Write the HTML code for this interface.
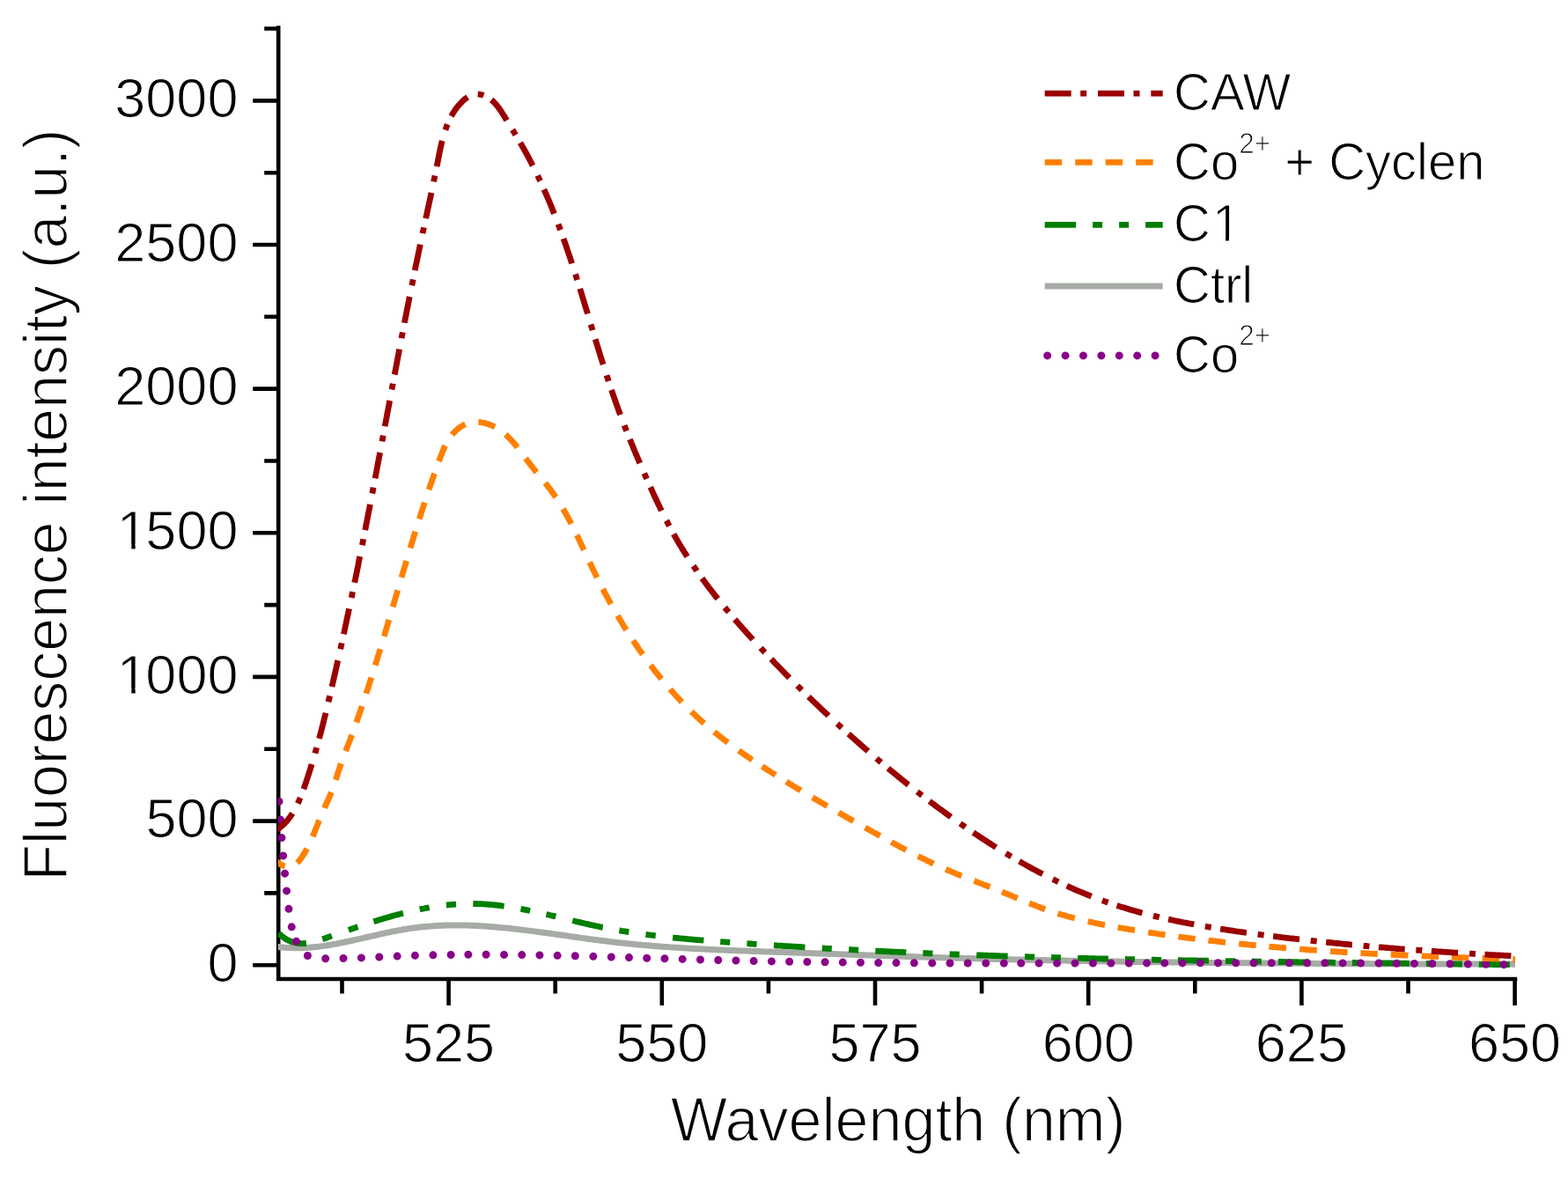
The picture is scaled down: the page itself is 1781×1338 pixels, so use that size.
<!DOCTYPE html>
<html><head><meta charset="utf-8"><title>Fluorescence spectra</title>
<style>html,body{margin:0;padding:0;background:#fff;} body{width:1781px;height:1338px;overflow:hidden;} svg{display:block;}</style>
</head><body><div id="wrap">
<svg width="1781" height="1338" viewBox="0 0 1781 1338"><rect width="1781" height="1338" fill="#fff"/><g><rect width="1781" height="1338" fill="#fff"/><path d="M316.2,31.5 V1112.0 H1721.0" fill="none" stroke="#000" stroke-width="4.6" stroke-linejoin="miter" stroke-linecap="square"/>
<path d="M287.2,1096.2H316.2 M300.2,1014.4H316.2 M287.2,932.6H316.2 M300.2,850.7H316.2 M287.2,768.9H316.2 M300.2,687.1H316.2 M287.2,605.3H316.2 M300.2,523.5H316.2 M287.2,441.6H316.2 M300.2,359.8H316.2 M287.2,278.0H316.2 M300.2,196.2H316.2 M287.2,114.4H316.2 M300.2,32.5H316.2 M388.5,1112.0V1128.5 M509.6,1112.0V1142.0 M630.7,1112.0V1128.5 M751.8,1112.0V1142.0 M872.9,1112.0V1128.5 M994.0,1112.0V1142.0 M1115.1,1112.0V1128.5 M1236.2,1112.0V1142.0 M1357.3,1112.0V1128.5 M1478.4,1112.0V1142.0 M1599.5,1112.0V1128.5 M1720.6,1112.0V1142.0" fill="none" stroke="#000" stroke-width="4.6"/>
<g font-family="Liberation Sans, Arial, sans-serif" font-size="63" fill="#000" stroke="#fff" stroke-width="1.1"><text x="235.5" y="1114.9">0</text><text x="165.4" y="951.3">500</text><text x="130.3" y="787.6"><tspan dx="2.5">1</tspan><tspan dx="-2.5">000</tspan></text><text x="130.3" y="624.0"><tspan dx="2.5">1</tspan><tspan dx="-2.5">500</tspan></text><text x="130.3" y="460.3">2000</text><text x="130.3" y="296.7">2500</text><text x="130.3" y="133.1">3000</text><text x="509.6" y="1206" text-anchor="middle">525</text><text x="751.8" y="1206" text-anchor="middle">550</text><text x="994.0" y="1206" text-anchor="middle">575</text><text x="1236.2" y="1206" text-anchor="middle">600</text><text x="1478.4" y="1206" text-anchor="middle">625</text><text x="1720.6" y="1206" text-anchor="middle">650</text></g>
<text transform="translate(1020,1295.7) scale(1,1.045)" x="0" y="0" text-anchor="middle" font-family="Liberation Sans, Arial, sans-serif" font-size="68.2" fill="#000" stroke="#fff" stroke-width="1.5">Wavelength (nm)</text>
<text transform="translate(75.5,573.5) rotate(-90) scale(1,1.045)" x="0" y="0" text-anchor="middle" font-family="Liberation Sans, Arial, sans-serif" font-size="68" fill="#000" stroke="#fff" stroke-width="1.5">Fluorescence intensity (a.u.)</text>
<defs><clipPath id="plot"><rect x="315.8" y="0" width="1406" height="1111"/></clipPath></defs>
<g fill="none" clip-path="url(#plot)"><path d="M313.9,1075.1 L315.8,1075.4 L317.8,1075.7 L319.8,1075.9 L321.8,1076.1 L323.8,1076.3 L325.8,1076.4 L327.8,1076.5 L329.8,1076.6 L331.8,1076.7 L333.8,1076.8 L335.8,1076.8 L337.8,1076.8 L339.8,1076.8 L341.8,1076.7 L343.8,1076.6 L345.8,1076.5 L347.8,1076.4 L349.8,1076.3 L351.8,1076.2 L353.8,1076.0 L355.8,1075.8 L357.8,1075.6 L359.8,1075.4 L361.8,1075.2 L363.7,1074.9 L365.7,1074.6 L367.7,1074.4 L369.7,1074.1 L371.7,1073.8 L373.6,1073.5 L375.6,1073.1 L377.6,1072.8 L379.6,1072.4 L381.5,1072.1 L383.5,1071.7 L385.5,1071.3 L387.4,1070.9 L389.4,1070.5 L391.3,1070.1 L393.3,1069.7 L395.3,1069.3 L397.2,1068.9 L399.2,1068.5 L401.1,1068.0 L403.1,1067.6 L405.0,1067.2 L407.0,1066.7 L408.9,1066.3 L410.9,1065.8 L412.8,1065.4 L414.8,1064.9 L416.7,1064.5 L418.7,1064.0 L420.7,1063.6 L422.6,1063.1 L424.6,1062.7 L426.5,1062.3 L428.5,1061.8 L430.4,1061.4 L432.4,1060.9 L434.3,1060.5 L436.3,1060.1 L438.2,1059.7 L440.2,1059.2 L442.1,1058.8 L444.1,1058.4 L446.1,1058.0 L448.0,1057.6 L450.0,1057.2 L452.0,1056.9 L453.9,1056.5 L455.9,1056.2 L457.9,1055.8 L459.8,1055.5 L461.8,1055.2 L463.8,1054.8 L465.8,1054.5 L467.8,1054.3 L469.7,1054.0 L471.7,1053.7 L473.7,1053.5 L475.7,1053.2 L477.7,1053.0 L479.7,1052.8 L481.7,1052.6 L483.7,1052.4 L485.7,1052.2 L487.7,1052.1 L489.7,1051.9 L491.7,1051.8 L493.6,1051.7 L495.6,1051.5 L497.6,1051.4 L499.6,1051.3 L501.6,1051.3 L503.6,1051.2 L505.6,1051.1 L507.6,1051.1 L509.6,1051.0 L511.7,1051.0 L513.7,1050.9 L515.7,1050.9 L517.7,1050.9 L519.7,1050.9 L521.7,1050.9 L523.7,1051.0 L525.7,1051.0 L527.7,1051.0 L529.7,1051.1 L531.7,1051.1 L533.7,1051.2 L535.7,1051.3 L537.7,1051.3 L539.7,1051.4 L541.7,1051.5 L543.7,1051.6 L545.7,1051.7 L547.7,1051.8 L549.7,1052.0 L551.7,1052.1 L553.7,1052.2 L555.7,1052.4 L557.6,1052.5 L559.6,1052.7 L561.6,1052.8 L563.6,1053.0 L565.6,1053.2 L567.6,1053.4 L569.6,1053.6 L571.6,1053.7 L573.6,1053.9 L575.6,1054.1 L577.6,1054.3 L579.6,1054.5 L581.6,1054.8 L583.6,1055.0 L585.5,1055.2 L587.5,1055.4 L589.5,1055.7 L591.5,1055.9 L593.5,1056.1 L595.5,1056.4 L597.5,1056.6 L599.5,1056.9 L601.4,1057.1 L603.4,1057.4 L605.4,1057.6 L607.4,1057.9 L609.4,1058.2 L611.4,1058.4 L613.4,1058.7 L615.3,1059.0 L617.3,1059.2 L619.3,1059.5 L621.3,1059.8 L623.3,1060.0 L625.3,1060.3 L627.2,1060.6 L629.2,1060.9 L631.2,1061.2 L633.2,1061.4 L635.2,1061.7 L637.1,1062.0 L639.1,1062.3 L641.1,1062.6 L643.1,1062.8 L645.1,1063.1 L647.1,1063.4 L649.0,1063.7 L651.0,1064.0 L653.0,1064.3 L655.0,1064.5 L657.0,1064.8 L658.9,1065.1 L660.9,1065.4 L662.9,1065.6 L664.9,1065.9 L666.9,1066.2 L668.9,1066.5 L670.8,1066.7 L672.8,1067.0 L674.8,1067.3 L676.8,1067.5 L678.8,1067.8 L680.8,1068.0 L682.8,1068.3 L684.7,1068.6 L686.7,1068.8 L688.7,1069.0 L690.7,1069.3 L692.7,1069.5 L694.7,1069.8 L696.7,1070.0 L698.7,1070.2 L700.6,1070.5 L702.6,1070.7 L704.6,1070.9 L706.6,1071.1 L708.6,1071.3 L710.6,1071.5 L712.6,1071.7 L714.6,1071.9 L716.6,1072.1 L718.6,1072.3 L720.6,1072.5 L722.5,1072.7 L724.5,1072.9 L726.5,1073.1 L728.5,1073.3 L730.5,1073.4 L732.5,1073.6 L734.5,1073.8 L736.5,1074.0 L738.5,1074.1 L740.5,1074.3 L742.5,1074.4 L744.5,1074.6 L746.5,1074.8 L748.5,1074.9 L750.5,1075.1 L752.5,1075.2 L754.5,1075.4 L756.5,1075.5 L758.5,1075.6 L760.5,1075.8 L762.4,1075.9 L764.4,1076.1 L766.4,1076.2 L768.4,1076.3 L770.4,1076.4 L772.4,1076.6 L774.4,1076.7 L776.4,1076.8 L778.4,1076.9 L780.4,1077.1 L782.4,1077.2 L784.4,1077.3 L786.4,1077.4 L788.4,1077.5 L790.4,1077.6 L792.4,1077.7 L794.4,1077.8 L796.4,1077.9 L798.4,1078.0 L800.4,1078.1 L802.4,1078.2 L804.4,1078.3 L806.4,1078.4 L808.4,1078.5 L810.4,1078.6 L812.4,1078.7 L814.4,1078.8 L816.4,1078.9 L818.4,1079.0 L820.4,1079.0 L822.4,1079.1 L824.4,1079.2 L826.4,1079.3 L828.4,1079.4 L830.4,1079.5 L832.4,1079.5 L834.4,1079.6 L836.4,1079.7 L838.4,1079.8 L840.4,1079.9 L842.4,1079.9 L844.4,1080.0 L846.4,1080.1 L848.4,1080.1 L850.4,1080.2 L852.4,1080.3 L854.4,1080.4 L856.4,1080.4 L858.4,1080.5 L860.4,1080.6 L862.4,1080.6 L864.4,1080.7 L866.4,1080.8 L868.4,1080.9 L870.4,1080.9 L872.4,1081.0 L874.4,1081.1 L876.4,1081.1 L878.4,1081.2 L880.4,1081.3 L882.4,1081.3 L884.4,1081.4 L886.4,1081.5 L888.4,1081.5 L890.4,1081.6 L892.4,1081.7 L894.4,1081.7 L896.4,1081.8 L898.4,1081.9 L900.4,1081.9 L902.4,1082.0 L904.4,1082.1 L906.4,1082.2 L908.4,1082.2 L910.4,1082.3 L912.4,1082.4 L914.4,1082.4 L916.4,1082.5 L918.4,1082.6 L920.4,1082.6 L922.4,1082.7 L924.4,1082.8 L926.4,1082.9 L928.4,1082.9 L930.4,1083.0 L932.4,1083.1 L934.4,1083.1 L936.4,1083.2 L938.4,1083.3 L940.4,1083.3 L942.4,1083.4 L944.4,1083.5 L946.4,1083.6 L948.4,1083.6 L950.4,1083.7 L952.5,1083.8 L954.5,1083.8 L956.5,1083.9 L958.5,1084.0 L960.5,1084.1 L962.5,1084.1 L964.5,1084.2 L966.5,1084.3 L968.5,1084.3 L970.5,1084.4 L972.5,1084.5 L974.5,1084.5 L976.5,1084.6 L978.5,1084.7 L980.5,1084.8 L982.5,1084.8 L984.5,1084.9 L986.5,1085.0 L988.5,1085.0 L990.5,1085.1 L992.5,1085.2 L994.5,1085.2 L996.5,1085.3 L998.5,1085.4 L1000.5,1085.4 L1002.5,1085.5 L1004.5,1085.6 L1006.5,1085.7 L1008.5,1085.7 L1010.5,1085.8 L1012.5,1085.9 L1014.5,1085.9 L1016.5,1086.0 L1018.5,1086.1 L1020.5,1086.1 L1022.5,1086.2 L1024.5,1086.3 L1026.5,1086.3 L1028.5,1086.4 L1030.5,1086.5 L1032.5,1086.5 L1034.5,1086.6 L1036.5,1086.6 L1038.5,1086.7 L1040.5,1086.8 L1042.5,1086.8 L1044.5,1086.9 L1046.5,1087.0 L1048.5,1087.0 L1050.5,1087.1 L1052.5,1087.2 L1054.5,1087.2 L1056.5,1087.3 L1058.5,1087.3 L1060.5,1087.4 L1062.5,1087.5 L1064.5,1087.5 L1066.5,1087.6 L1068.5,1087.7 L1070.5,1087.7 L1072.5,1087.8 L1074.5,1087.8 L1076.5,1087.9 L1078.5,1087.9 L1080.5,1088.0 L1082.5,1088.1 L1084.5,1088.1 L1086.5,1088.2 L1088.5,1088.2 L1090.5,1088.3 L1092.5,1088.3 L1094.5,1088.4 L1096.5,1088.5 L1098.5,1088.5 L1100.5,1088.6 L1102.5,1088.6 L1104.5,1088.7 L1106.5,1088.7 L1108.5,1088.8 L1110.5,1088.8 L1112.5,1088.9 L1114.5,1088.9 L1116.5,1089.0 L1118.5,1089.0 L1120.5,1089.1 L1122.5,1089.2 L1124.5,1089.2 L1126.5,1089.3 L1128.5,1089.3 L1130.5,1089.4 L1132.5,1089.4 L1134.5,1089.5 L1136.5,1089.5 L1138.5,1089.6 L1140.5,1089.6 L1142.5,1089.6 L1144.5,1089.7 L1146.5,1089.7 L1148.5,1089.8 L1150.5,1089.8 L1152.5,1089.9 L1154.5,1089.9 L1156.5,1090.0 L1158.5,1090.0 L1160.5,1090.1 L1162.5,1090.1 L1164.5,1090.2 L1166.5,1090.2 L1168.5,1090.2 L1170.5,1090.3 L1172.5,1090.3 L1174.5,1090.4 L1176.6,1090.4 L1178.6,1090.5 L1180.6,1090.5 L1182.6,1090.6 L1184.6,1090.6 L1186.6,1090.6 L1188.6,1090.7 L1190.6,1090.7 L1192.6,1090.8 L1194.6,1090.8 L1196.6,1090.8 L1198.6,1090.9 L1200.6,1090.9 L1202.6,1091.0 L1204.6,1091.0 L1206.6,1091.0 L1208.6,1091.1 L1210.6,1091.1 L1212.6,1091.2 L1214.6,1091.2 L1216.6,1091.2 L1218.6,1091.3 L1220.6,1091.3 L1222.6,1091.3 L1224.6,1091.4 L1226.6,1091.4 L1228.6,1091.4 L1230.6,1091.5 L1232.6,1091.5 L1234.6,1091.6 L1236.6,1091.6 L1238.6,1091.6 L1240.6,1091.7 L1242.6,1091.7 L1244.6,1091.7 L1246.6,1091.8 L1248.6,1091.8 L1250.6,1091.8 L1252.6,1091.9 L1254.6,1091.9 L1256.6,1091.9 L1258.6,1092.0 L1260.6,1092.0 L1262.6,1092.0 L1264.6,1092.1 L1266.6,1092.1 L1268.6,1092.1 L1270.6,1092.1 L1272.6,1092.2 L1274.6,1092.2 L1276.6,1092.2 L1278.6,1092.3 L1280.6,1092.3 L1282.6,1092.3 L1284.6,1092.4 L1286.6,1092.4 L1288.6,1092.4 L1290.6,1092.4 L1292.6,1092.5 L1294.6,1092.5 L1296.6,1092.5 L1298.6,1092.6 L1300.6,1092.6 L1302.6,1092.6 L1304.6,1092.6 L1306.6,1092.7 L1308.7,1092.7 L1310.7,1092.7 L1312.7,1092.7 L1314.7,1092.8 L1316.7,1092.8 L1318.7,1092.8 L1320.7,1092.8 L1322.7,1092.9 L1324.7,1092.9 L1326.7,1092.9 L1328.7,1092.9 L1330.7,1093.0 L1332.7,1093.0 L1334.7,1093.0 L1336.7,1093.0 L1338.7,1093.1 L1340.7,1093.1 L1342.7,1093.1 L1344.7,1093.1 L1346.7,1093.2 L1348.7,1093.2 L1350.7,1093.2 L1352.7,1093.2 L1354.7,1093.2 L1356.7,1093.3 L1358.7,1093.3 L1360.7,1093.3 L1362.7,1093.3 L1364.7,1093.3 L1366.7,1093.4 L1368.7,1093.4 L1370.7,1093.4 L1372.7,1093.4 L1374.7,1093.4 L1376.7,1093.5 L1378.7,1093.5 L1380.7,1093.5 L1382.7,1093.5 L1384.7,1093.5 L1386.7,1093.6 L1388.7,1093.6 L1390.7,1093.6 L1392.7,1093.6 L1394.7,1093.6 L1396.7,1093.7 L1398.7,1093.7 L1400.7,1093.7 L1402.7,1093.7 L1404.7,1093.7 L1406.7,1093.7 L1408.7,1093.8 L1410.7,1093.8 L1412.7,1093.8 L1414.7,1093.8 L1416.7,1093.8 L1418.7,1093.8 L1420.7,1093.9 L1422.7,1093.9 L1424.7,1093.9 L1426.8,1093.9 L1428.8,1093.9 L1430.8,1093.9 L1432.8,1094.0 L1434.8,1094.0 L1436.8,1094.0 L1438.8,1094.0 L1440.8,1094.0 L1442.8,1094.0 L1444.8,1094.0 L1446.8,1094.1 L1448.8,1094.1 L1450.8,1094.1 L1452.8,1094.1 L1454.8,1094.1 L1456.8,1094.1 L1458.8,1094.1 L1460.8,1094.2 L1462.8,1094.2 L1464.8,1094.2 L1466.8,1094.2 L1468.8,1094.2 L1470.8,1094.2 L1472.8,1094.2 L1474.8,1094.2 L1476.8,1094.3 L1478.8,1094.3 L1480.8,1094.3 L1482.8,1094.3 L1484.8,1094.3 L1486.8,1094.3 L1488.8,1094.3 L1490.8,1094.3 L1492.8,1094.4 L1494.8,1094.4 L1496.8,1094.4 L1498.8,1094.4 L1500.8,1094.4 L1502.8,1094.4 L1504.8,1094.4 L1506.8,1094.4 L1508.8,1094.4 L1510.8,1094.4 L1512.8,1094.5 L1514.8,1094.5 L1516.8,1094.5 L1518.8,1094.5 L1520.8,1094.5 L1522.8,1094.5 L1524.8,1094.5 L1526.8,1094.5 L1528.8,1094.5 L1530.8,1094.5 L1532.8,1094.6 L1534.8,1094.6 L1536.8,1094.6 L1538.8,1094.6 L1540.9,1094.6 L1542.9,1094.6 L1544.9,1094.6 L1546.9,1094.6 L1548.9,1094.6 L1550.9,1094.6 L1552.9,1094.6 L1554.9,1094.6 L1556.9,1094.7 L1558.9,1094.7 L1560.9,1094.7 L1562.9,1094.7 L1564.9,1094.7 L1566.9,1094.7 L1568.9,1094.7 L1570.9,1094.7 L1572.9,1094.7 L1574.9,1094.7 L1576.9,1094.7 L1578.9,1094.7 L1580.9,1094.7 L1582.9,1094.8 L1584.9,1094.8 L1586.9,1094.8 L1588.9,1094.8 L1590.9,1094.8 L1592.9,1094.8 L1594.9,1094.8 L1596.9,1094.8 L1598.9,1094.8 L1600.9,1094.8 L1602.9,1094.8 L1604.9,1094.8 L1606.9,1094.8 L1608.9,1094.8 L1610.9,1094.9 L1612.9,1094.9 L1614.9,1094.9 L1616.9,1094.9 L1618.9,1094.9 L1620.9,1094.9 L1622.9,1094.9 L1624.9,1094.9 L1626.9,1094.9 L1628.9,1094.9 L1630.9,1094.9 L1632.9,1094.9 L1634.9,1094.9 L1636.9,1094.9 L1638.9,1094.9 L1640.9,1094.9 L1642.9,1094.9 L1644.9,1095.0 L1646.9,1095.0 L1648.9,1095.0 L1650.9,1095.0 L1653.0,1095.0 L1655.0,1095.0 L1657.0,1095.0 L1659.0,1095.0 L1661.0,1095.0 L1663.0,1095.0 L1665.0,1095.0 L1667.0,1095.0 L1669.0,1095.0 L1671.0,1095.0 L1673.0,1095.0 L1675.0,1095.0 L1677.0,1095.0 L1679.0,1095.0 L1681.0,1095.1 L1683.0,1095.1 L1685.0,1095.1 L1687.0,1095.1 L1689.0,1095.1 L1691.0,1095.1 L1693.0,1095.1 L1695.0,1095.1 L1697.0,1095.1 L1699.0,1095.1 L1701.0,1095.1 L1703.0,1095.1 L1705.0,1095.1 L1707.0,1095.1 L1709.0,1095.1 L1711.0,1095.1 L1713.0,1095.1 L1715.0,1095.1 L1717.0,1095.1 L1719.0,1095.2 L1721.0,1095.2" stroke="#A6ABA6" stroke-width="7.0"/>
<path d="M313.6,1056.9 L315.0,1058.4 L316.4,1059.8 L317.8,1061.2 L319.3,1062.6 L320.8,1063.8 L322.4,1065.0 L324.1,1066.1 L325.8,1067.2 L327.6,1068.1 L329.4,1069.0 L331.2,1069.7 L333.1,1070.3 L335.1,1070.8 L337.0,1071.2 L339.0,1071.5 L341.0,1071.7 L343.0,1071.7 L345.0,1071.7 L347.0,1071.5 L349.0,1071.3 L351.0,1071.0 L352.9,1070.6 L354.9,1070.2 L356.8,1069.7 L358.8,1069.2 L360.7,1068.6 L362.6,1068.0 L364.5,1067.4 L366.4,1066.7 L368.3,1066.1 L370.2,1065.4 L372.1,1064.7 L373.9,1064.1 L375.8,1063.4 L377.7,1062.7 L379.6,1062.1 L381.5,1061.4 L383.4,1060.7 L385.3,1060.1 L387.1,1059.4 L389.0,1058.7 L390.9,1058.1 L392.8,1057.4 L394.7,1056.7 L396.6,1056.1 L398.5,1055.4 L400.4,1054.8 L402.3,1054.1 L404.2,1053.5 L406.0,1052.8 L407.9,1052.2 L409.8,1051.6 L411.7,1050.9 L413.6,1050.3 L415.5,1049.7 L417.4,1049.1 L419.3,1048.4 L421.2,1047.8 L423.2,1047.2 L425.1,1046.6 L427.0,1046.0 L428.9,1045.4 L430.8,1044.8 L432.7,1044.2 L434.6,1043.7 L436.5,1043.1 L438.5,1042.5 L440.4,1042.0 L442.3,1041.4 L444.2,1040.9 L446.1,1040.3 L448.1,1039.8 L450.0,1039.3 L451.9,1038.7 L453.9,1038.2 L455.8,1037.7 L457.7,1037.2 L459.7,1036.7 L461.6,1036.3 L463.6,1035.8 L465.5,1035.3 L467.5,1034.9 L469.4,1034.4 L471.4,1034.0 L473.3,1033.6 L475.3,1033.1 L477.2,1032.7 L479.2,1032.3 L481.2,1032.0 L483.1,1031.6 L485.1,1031.2 L487.1,1030.9 L489.0,1030.5 L491.0,1030.2 L493.0,1029.9 L495.0,1029.6 L496.9,1029.3 L498.9,1029.0 L500.9,1028.7 L502.9,1028.5 L504.9,1028.2 L506.9,1028.0 L508.9,1027.8 L510.8,1027.6 L512.8,1027.4 L514.8,1027.3 L516.8,1027.1 L518.8,1027.0 L520.8,1026.8 L522.8,1026.7 L524.8,1026.6 L526.8,1026.6 L528.8,1026.5 L530.8,1026.5 L532.8,1026.4 L534.8,1026.4 L536.8,1026.4 L538.8,1026.5 L540.8,1026.5 L542.8,1026.6 L544.8,1026.6 L546.8,1026.7 L548.8,1026.8 L550.8,1027.0 L552.8,1027.1 L554.8,1027.3 L556.8,1027.4 L558.8,1027.6 L560.8,1027.8 L562.8,1028.0 L564.8,1028.2 L566.7,1028.5 L568.7,1028.7 L570.7,1029.0 L572.7,1029.3 L574.7,1029.5 L576.6,1029.8 L578.6,1030.1 L580.6,1030.5 L582.6,1030.8 L584.5,1031.1 L586.5,1031.5 L588.5,1031.8 L590.5,1032.2 L592.4,1032.5 L594.4,1032.9 L596.4,1033.3 L598.3,1033.7 L600.3,1034.1 L602.2,1034.5 L604.2,1034.9 L606.1,1035.3 L608.1,1035.7 L610.1,1036.2 L612.0,1036.6 L614.0,1037.0 L615.9,1037.5 L617.9,1037.9 L619.8,1038.4 L621.8,1038.8 L623.7,1039.3 L625.7,1039.7 L627.6,1040.2 L629.6,1040.6 L631.5,1041.1 L633.4,1041.6 L635.4,1042.0 L637.3,1042.5 L639.3,1043.0 L641.2,1043.4 L643.2,1043.9 L645.1,1044.4 L647.1,1044.8 L649.0,1045.3 L651.0,1045.8 L652.9,1046.2 L654.8,1046.7 L656.8,1047.2 L658.7,1047.6 L660.7,1048.1 L662.6,1048.5 L664.6,1049.0 L666.5,1049.4 L668.5,1049.9 L670.4,1050.3 L672.4,1050.7 L674.3,1051.2 L676.3,1051.6 L678.3,1052.0 L680.2,1052.4 L682.2,1052.8 L684.1,1053.3 L686.1,1053.6 L688.1,1054.0 L690.0,1054.4 L692.0,1054.8 L694.0,1055.2 L695.9,1055.5 L697.9,1055.9 L699.9,1056.2 L701.8,1056.6 L703.8,1056.9 L705.8,1057.3 L707.7,1057.6 L709.7,1057.9 L711.7,1058.2 L713.7,1058.6 L715.6,1058.9 L717.6,1059.2 L719.6,1059.5 L721.6,1059.8 L723.6,1060.1 L725.5,1060.3 L727.5,1060.6 L729.5,1060.9 L731.5,1061.2 L733.5,1061.4 L735.5,1061.7 L737.4,1061.9 L739.4,1062.2 L741.4,1062.4 L743.4,1062.7 L745.4,1062.9 L747.4,1063.1 L749.4,1063.4 L751.3,1063.6 L753.3,1063.8 L755.3,1064.0 L757.3,1064.3 L759.3,1064.5 L761.3,1064.7 L763.3,1064.9 L765.3,1065.1 L767.3,1065.3 L769.2,1065.5 L771.2,1065.7 L773.2,1065.9 L775.2,1066.1 L777.2,1066.2 L779.2,1066.4 L781.2,1066.6 L783.2,1066.8 L785.2,1066.9 L787.2,1067.1 L789.2,1067.3 L791.2,1067.5 L793.2,1067.6 L795.2,1067.8 L797.2,1067.9 L799.1,1068.1 L801.1,1068.3 L803.1,1068.4 L805.1,1068.6 L807.1,1068.7 L809.1,1068.9 L811.1,1069.0 L813.1,1069.2 L815.1,1069.3 L817.1,1069.5 L819.1,1069.6 L821.1,1069.8 L823.1,1069.9 L825.1,1070.1 L827.1,1070.2 L829.1,1070.3 L831.1,1070.5 L833.1,1070.6 L835.1,1070.8 L837.1,1070.9 L839.0,1071.0 L841.0,1071.2 L843.0,1071.3 L845.0,1071.5 L847.0,1071.6 L849.0,1071.7 L851.0,1071.9 L853.0,1072.0 L855.0,1072.1 L857.0,1072.3 L859.0,1072.4 L861.0,1072.5 L863.0,1072.7 L865.0,1072.8 L867.0,1072.9 L869.0,1073.1 L871.0,1073.2 L873.0,1073.3 L875.0,1073.4 L877.0,1073.6 L879.0,1073.7 L881.0,1073.8 L883.0,1074.0 L885.0,1074.1 L887.0,1074.2 L889.0,1074.3 L891.0,1074.5 L893.0,1074.6 L894.9,1074.7 L896.9,1074.8 L898.9,1074.9 L900.9,1075.1 L902.9,1075.2 L904.9,1075.3 L906.9,1075.4 L908.9,1075.5 L910.9,1075.7 L912.9,1075.8 L914.9,1075.9 L916.9,1076.0 L918.9,1076.1 L920.9,1076.2 L922.9,1076.4 L924.9,1076.5 L926.9,1076.6 L928.9,1076.7 L930.9,1076.8 L932.9,1076.9 L934.9,1077.0 L936.9,1077.1 L938.9,1077.3 L940.9,1077.4 L942.9,1077.5 L944.9,1077.6 L946.9,1077.7 L948.9,1077.8 L950.9,1077.9 L952.9,1078.0 L954.9,1078.1 L956.9,1078.2 L958.9,1078.3 L960.9,1078.4 L962.9,1078.5 L964.9,1078.6 L966.9,1078.7 L968.9,1078.8 L970.9,1078.9 L972.9,1079.0 L974.9,1079.1 L976.8,1079.2 L978.8,1079.3 L980.8,1079.4 L982.8,1079.5 L984.8,1079.6 L986.8,1079.7 L988.8,1079.8 L990.8,1079.9 L992.8,1080.0 L994.8,1080.1 L996.8,1080.2 L998.8,1080.3 L1000.8,1080.4 L1002.8,1080.5 L1004.8,1080.6 L1006.8,1080.7 L1008.8,1080.8 L1010.8,1080.9 L1012.8,1081.0 L1014.8,1081.1 L1016.8,1081.1 L1018.8,1081.2 L1020.8,1081.3 L1022.8,1081.4 L1024.8,1081.5 L1026.8,1081.6 L1028.8,1081.7 L1030.8,1081.8 L1032.8,1081.9 L1034.8,1081.9 L1036.8,1082.0 L1038.8,1082.1 L1040.8,1082.2 L1042.8,1082.3 L1044.8,1082.4 L1046.8,1082.5 L1048.8,1082.5 L1050.8,1082.6 L1052.8,1082.7 L1054.8,1082.8 L1056.8,1082.9 L1058.8,1082.9 L1060.8,1083.0 L1062.8,1083.1 L1064.8,1083.2 L1066.8,1083.3 L1068.8,1083.3 L1070.8,1083.4 L1072.8,1083.5 L1074.8,1083.6 L1076.8,1083.6 L1078.8,1083.7 L1080.8,1083.8 L1082.8,1083.9 L1084.8,1084.0 L1086.8,1084.0 L1088.8,1084.1 L1090.8,1084.2 L1092.8,1084.2 L1094.8,1084.3 L1096.8,1084.4 L1098.8,1084.5 L1100.8,1084.5 L1102.8,1084.6 L1104.8,1084.7 L1106.8,1084.8 L1108.8,1084.8 L1110.8,1084.9 L1112.8,1085.0 L1114.8,1085.0 L1116.8,1085.1 L1118.8,1085.2 L1120.8,1085.2 L1122.8,1085.3 L1124.8,1085.4 L1126.8,1085.4 L1128.8,1085.5 L1130.8,1085.6 L1132.8,1085.6 L1134.8,1085.7 L1136.8,1085.8 L1138.8,1085.8 L1140.8,1085.9 L1142.8,1086.0 L1144.8,1086.0 L1146.8,1086.1 L1148.8,1086.1 L1150.8,1086.2 L1152.8,1086.3 L1154.8,1086.3 L1156.8,1086.4 L1158.8,1086.5 L1160.8,1086.5 L1162.8,1086.6 L1164.8,1086.6 L1166.8,1086.7 L1168.8,1086.8 L1170.8,1086.8 L1172.8,1086.9 L1174.8,1086.9 L1176.8,1087.0 L1178.8,1087.0 L1180.8,1087.1 L1182.8,1087.2 L1184.8,1087.2 L1186.8,1087.3 L1188.8,1087.3 L1190.8,1087.4 L1192.8,1087.4 L1194.8,1087.5 L1196.8,1087.6 L1198.8,1087.6 L1200.8,1087.7 L1202.8,1087.7 L1204.8,1087.8 L1206.8,1087.8 L1208.8,1087.9 L1210.8,1087.9 L1212.8,1088.0 L1214.8,1088.0 L1216.8,1088.1 L1218.8,1088.1 L1220.8,1088.2 L1222.8,1088.2 L1224.8,1088.3 L1226.8,1088.3 L1228.8,1088.4 L1230.8,1088.4 L1232.8,1088.5 L1234.8,1088.5 L1236.8,1088.6 L1238.8,1088.6 L1240.8,1088.7 L1242.8,1088.7 L1244.8,1088.8 L1246.8,1088.8 L1248.8,1088.9 L1250.8,1088.9 L1252.8,1089.0 L1254.8,1089.0 L1256.8,1089.0 L1258.8,1089.1 L1260.8,1089.1 L1262.8,1089.2 L1264.8,1089.2 L1266.8,1089.3 L1268.8,1089.3 L1270.8,1089.4 L1272.8,1089.4 L1274.8,1089.4 L1276.8,1089.5 L1278.8,1089.5 L1280.8,1089.6 L1282.8,1089.6 L1284.8,1089.7 L1286.8,1089.7 L1288.8,1089.7 L1290.8,1089.8 L1292.8,1089.8 L1294.8,1089.9 L1296.8,1089.9 L1298.8,1089.9 L1300.8,1090.0 L1302.8,1090.0 L1304.8,1090.1 L1306.8,1090.1 L1308.8,1090.1 L1310.8,1090.2 L1312.8,1090.2 L1314.8,1090.3 L1316.8,1090.3 L1318.8,1090.3 L1320.8,1090.4 L1322.8,1090.4 L1324.8,1090.4 L1326.8,1090.5 L1328.8,1090.5 L1330.8,1090.6 L1332.8,1090.6 L1334.8,1090.6 L1336.8,1090.7 L1338.8,1090.7 L1340.8,1090.7 L1342.8,1090.8 L1344.8,1090.8 L1346.8,1090.8 L1348.8,1090.9 L1350.8,1090.9 L1352.8,1090.9 L1354.8,1091.0 L1356.8,1091.0 L1358.8,1091.0 L1360.8,1091.1 L1362.8,1091.1 L1364.8,1091.1 L1366.8,1091.2 L1368.8,1091.2 L1370.8,1091.2 L1372.8,1091.3 L1374.8,1091.3 L1376.8,1091.3 L1378.8,1091.4 L1380.8,1091.4 L1382.8,1091.4 L1384.8,1091.5 L1386.8,1091.5 L1388.8,1091.5 L1390.8,1091.6 L1392.8,1091.6 L1394.8,1091.6 L1396.8,1091.7 L1398.8,1091.7 L1400.8,1091.7 L1402.8,1091.7 L1404.8,1091.8 L1406.8,1091.8 L1408.8,1091.8 L1410.8,1091.9 L1412.8,1091.9 L1414.8,1091.9 L1416.8,1092.0 L1418.8,1092.0 L1420.8,1092.0 L1422.8,1092.0 L1424.8,1092.1 L1426.8,1092.1 L1428.8,1092.1 L1430.8,1092.2 L1432.8,1092.2 L1434.8,1092.2 L1436.8,1092.2 L1438.8,1092.3 L1440.8,1092.3 L1442.8,1092.3 L1444.8,1092.4 L1446.8,1092.4 L1448.8,1092.4 L1450.8,1092.4 L1452.8,1092.5 L1454.8,1092.5 L1456.8,1092.5 L1458.8,1092.5 L1460.8,1092.6 L1462.8,1092.6 L1464.8,1092.6 L1466.8,1092.6 L1468.8,1092.7 L1470.8,1092.7 L1472.8,1092.7 L1474.8,1092.8 L1476.8,1092.8 L1478.8,1092.8 L1480.8,1092.8 L1482.8,1092.9 L1484.8,1092.9 L1486.8,1092.9 L1488.8,1092.9 L1490.8,1093.0 L1492.8,1093.0 L1494.8,1093.0 L1496.8,1093.0 L1498.8,1093.1 L1500.8,1093.1 L1502.8,1093.1 L1504.8,1093.1 L1506.8,1093.2 L1508.8,1093.2 L1510.8,1093.2 L1512.8,1093.2 L1514.8,1093.3 L1516.8,1093.3 L1518.8,1093.3 L1520.8,1093.3 L1522.8,1093.4 L1524.8,1093.4 L1526.8,1093.4 L1528.8,1093.4 L1530.8,1093.4 L1532.8,1093.5 L1534.8,1093.5 L1536.8,1093.5 L1538.8,1093.5 L1540.8,1093.6 L1542.8,1093.6 L1544.8,1093.6 L1546.8,1093.6 L1548.8,1093.7 L1550.8,1093.7 L1552.8,1093.7 L1554.8,1093.7 L1556.8,1093.8 L1558.8,1093.8 L1560.8,1093.8 L1562.8,1093.8 L1564.8,1093.9 L1566.8,1093.9 L1568.8,1093.9 L1570.8,1093.9 L1572.8,1093.9 L1574.8,1094.0 L1576.8,1094.0 L1578.8,1094.0 L1580.8,1094.0 L1582.8,1094.1 L1584.8,1094.1 L1586.8,1094.1 L1588.8,1094.1 L1590.8,1094.2 L1592.8,1094.2 L1594.8,1094.2 L1596.8,1094.2 L1598.8,1094.3 L1600.8,1094.3 L1602.8,1094.3 L1604.8,1094.3 L1606.8,1094.3 L1608.8,1094.4 L1610.8,1094.4 L1612.8,1094.4 L1614.8,1094.4 L1616.8,1094.5 L1618.8,1094.5 L1620.8,1094.5 L1622.8,1094.5 L1624.8,1094.6 L1626.8,1094.6 L1628.8,1094.6 L1630.8,1094.6 L1632.8,1094.7 L1634.8,1094.7 L1636.8,1094.7 L1638.8,1094.7 L1640.8,1094.8 L1642.8,1094.8 L1644.8,1094.8 L1646.8,1094.8 L1648.8,1094.9 L1650.8,1094.9 L1652.8,1094.9 L1654.8,1094.9 L1656.8,1095.0 L1658.8,1095.0 L1660.8,1095.0 L1662.8,1095.0 L1664.8,1095.1 L1666.8,1095.1 L1668.9,1095.1 L1670.9,1095.1 L1672.9,1095.2 L1674.9,1095.2 L1676.9,1095.2 L1678.9,1095.2 L1680.9,1095.3 L1682.9,1095.3 L1684.9,1095.3 L1686.9,1095.3 L1688.9,1095.4 L1690.9,1095.4 L1692.9,1095.4 L1694.9,1095.4 L1696.9,1095.5 L1698.9,1095.5 L1700.9,1095.5 L1702.9,1095.5 L1704.9,1095.6 L1706.9,1095.6 L1708.9,1095.6 L1710.9,1095.7 L1712.9,1095.7 L1714.9,1095.7 L1716.9,1095.7 L1718.9,1095.8 L1720.9,1095.8" stroke="#007F00" stroke-width="6.8" stroke-dasharray="0.00 3.90 35.00 19.00 11.30 20.10 11.30 18.80 35.00 19.20 11.20 19.40 11.20 19.30 35.40 19.10 10.90 18.80 11.10 19.50 35.40 18.90 11.10 19.40 11.30 19.50 35.40 18.90 11.00 19.30 11.20 19.40 35.60 19.30 11.10 19.30 11.10 19.10 35.10 19.10 11.10 19.20 11.10 19.40 35.60 19.30 11.10 19.00 11.00 19.00 35.00 19.00 11.00 19.00 11.00 19.00 35.00 19.00 11.00 19.00 11.00 19.00 35.00 19.00 11.00 19.00 11.00 19.00 35.00 19.00 11.00 19.00 11.00 19.00 35.00 56.07"/>
<path d="M316.3,897.8 L316.4,899.8 L316.5,901.8 L316.7,903.8 L316.8,905.8 L316.9,907.8 L317.0,909.8 L317.2,911.8 L317.3,913.8 L317.4,915.8 L317.5,917.8 L317.7,919.8 L317.8,921.8 L317.9,923.8 L318.1,925.8 L318.2,927.8 L318.4,929.8 L318.5,931.8 L318.6,933.8 L318.8,935.7 L318.9,937.7 L319.1,939.7 L319.2,941.7 L319.4,943.7 L319.5,945.7 L319.7,947.7 L319.8,949.7 L320.0,951.7 L320.1,953.7 L320.3,955.7 L320.4,957.7 L320.6,959.7 L320.8,961.7 L320.9,963.7 L321.1,965.7 L321.3,967.7 L321.4,969.7 L321.6,971.6 L321.8,973.6 L322.0,975.6 L322.1,977.6 L322.3,979.6 L322.5,981.6 L322.7,983.6 L322.9,985.6 L323.1,987.6 L323.3,989.6 L323.5,991.6 L323.7,993.6 L323.9,995.5 L324.1,997.5 L324.3,999.5 L324.5,1001.5 L324.7,1003.5 L324.9,1005.5 L325.1,1007.5 L325.3,1009.5 L325.5,1011.5 L325.8,1013.5 L326.0,1015.4 L326.2,1017.4 L326.4,1019.4 L326.7,1021.4 L326.9,1023.4 L327.1,1025.4 L327.4,1027.4 L327.6,1029.3 L327.9,1031.3 L328.1,1033.3 L328.4,1035.3 L328.6,1037.3 L328.9,1039.3 L329.2,1041.2 L329.5,1043.2 L329.8,1045.2 L330.1,1047.2 L330.5,1049.1 L330.9,1051.1 L331.3,1053.1 L331.7,1055.0 L332.2,1056.9 L332.8,1058.9 L333.3,1060.8 L333.9,1062.7 L334.6,1064.6 L335.3,1066.5 L336.1,1068.3 L336.9,1070.1 L337.8,1071.9 L338.7,1073.7 L339.7,1075.4 L340.8,1077.1 L342.0,1078.7 L343.2,1080.3 L344.6,1081.7 L346.1,1083.1 L347.7,1084.3 L349.3,1085.4 L351.1,1086.3 L353.0,1087.0 L354.9,1087.5 L356.9,1087.9 L358.9,1088.2 L360.9,1088.4 L362.9,1088.6 L364.9,1088.6 L366.9,1088.7 L368.9,1088.7 L370.9,1088.7 L372.9,1088.7 L374.9,1088.7 L376.9,1088.7 L378.9,1088.7 L380.9,1088.7 L382.9,1088.7 L384.9,1088.6 L386.9,1088.6 L388.9,1088.6 L390.9,1088.5 L392.9,1088.5 L394.9,1088.4 L396.9,1088.4 L398.9,1088.3 L400.9,1088.2 L402.9,1088.2 L404.9,1088.1 L406.9,1088.0 L408.9,1088.0 L410.9,1087.9 L412.9,1087.8 L414.9,1087.7 L416.9,1087.6 L418.9,1087.5 L420.9,1087.5 L422.8,1087.4 L424.8,1087.3 L426.8,1087.2 L428.8,1087.1 L430.8,1087.0 L432.8,1086.9 L434.8,1086.8 L436.8,1086.7 L438.8,1086.6 L440.8,1086.6 L442.8,1086.5 L444.8,1086.4 L446.8,1086.3 L448.8,1086.2 L450.8,1086.1 L452.8,1086.0 L454.8,1086.0 L456.8,1085.9 L458.8,1085.8 L460.8,1085.7 L462.8,1085.7 L464.8,1085.6 L466.8,1085.5 L468.8,1085.5 L470.8,1085.4 L472.8,1085.3 L474.8,1085.3 L476.8,1085.2 L478.8,1085.2 L480.8,1085.1 L482.8,1085.1 L484.8,1085.0 L486.8,1085.0 L488.8,1084.9 L490.8,1084.9 L492.8,1084.8 L494.8,1084.8 L496.8,1084.7 L498.8,1084.7 L500.8,1084.7 L502.8,1084.6 L504.8,1084.6 L506.8,1084.6 L508.8,1084.5 L510.8,1084.5 L512.8,1084.5 L514.8,1084.5 L516.8,1084.4 L518.8,1084.4 L520.8,1084.4 L522.8,1084.4 L524.8,1084.4 L526.8,1084.3 L528.8,1084.3 L530.8,1084.3 L532.8,1084.3 L534.8,1084.3 L536.8,1084.3 L538.8,1084.3 L540.8,1084.3 L542.8,1084.3 L544.8,1084.3 L546.8,1084.3 L548.8,1084.3 L550.8,1084.3 L552.8,1084.3 L554.8,1084.3 L556.8,1084.3 L558.8,1084.3 L560.8,1084.3 L562.8,1084.3 L564.8,1084.3 L566.8,1084.3 L568.8,1084.4 L570.8,1084.4 L572.8,1084.4 L574.8,1084.4 L576.8,1084.4 L578.8,1084.4 L580.8,1084.5 L582.8,1084.5 L584.8,1084.5 L586.8,1084.5 L588.8,1084.5 L590.8,1084.6 L592.8,1084.6 L594.8,1084.6 L596.8,1084.7 L598.8,1084.7 L600.8,1084.7 L602.8,1084.7 L604.8,1084.8 L606.8,1084.8 L608.8,1084.8 L610.8,1084.9 L612.8,1084.9 L614.8,1085.0 L616.8,1085.0 L618.8,1085.0 L620.8,1085.1 L622.8,1085.1 L624.8,1085.1 L626.8,1085.2 L628.8,1085.2 L630.8,1085.3 L632.8,1085.3 L634.8,1085.4 L636.8,1085.4 L638.8,1085.5 L640.8,1085.5 L642.8,1085.6 L644.8,1085.6 L646.8,1085.6 L648.8,1085.7 L650.8,1085.7 L652.8,1085.8 L654.8,1085.8 L656.8,1085.9 L658.8,1086.0 L660.8,1086.0 L662.8,1086.1 L664.8,1086.1 L666.8,1086.2 L668.8,1086.2 L670.8,1086.3 L672.8,1086.3 L674.8,1086.4 L676.8,1086.4 L678.8,1086.5 L680.8,1086.6 L682.8,1086.6 L684.8,1086.7 L686.8,1086.7 L688.8,1086.8 L690.8,1086.9 L692.8,1086.9 L694.8,1087.0 L696.8,1087.0 L698.8,1087.1 L700.8,1087.1 L702.8,1087.2 L704.8,1087.3 L706.8,1087.3 L708.8,1087.4 L710.8,1087.5 L712.8,1087.5 L714.8,1087.6 L716.8,1087.6 L718.8,1087.7 L720.8,1087.8 L722.8,1087.8 L724.8,1087.9 L726.8,1087.9 L728.8,1088.0 L730.8,1088.1 L732.8,1088.1 L734.8,1088.2 L736.8,1088.3 L738.8,1088.3 L740.8,1088.4 L742.8,1088.4 L744.8,1088.5 L746.8,1088.6 L748.8,1088.6 L750.8,1088.7 L752.8,1088.8 L754.8,1088.8 L756.8,1088.9 L758.8,1088.9 L760.8,1089.0 L762.8,1089.1 L764.8,1089.1 L766.8,1089.2 L768.8,1089.2 L770.8,1089.3 L772.8,1089.4 L774.8,1089.4 L776.8,1089.5 L778.8,1089.5 L780.8,1089.6 L782.8,1089.6 L784.8,1089.7 L786.8,1089.8 L788.8,1089.8 L790.8,1089.9 L792.8,1089.9 L794.8,1090.0 L796.8,1090.0 L798.8,1090.1 L800.8,1090.1 L802.8,1090.2 L804.8,1090.3 L806.8,1090.3 L808.8,1090.4 L810.8,1090.4 L812.8,1090.5 L814.8,1090.5 L816.8,1090.6 L818.8,1090.6 L820.8,1090.7 L822.8,1090.7 L824.8,1090.8 L826.8,1090.8 L828.8,1090.9 L830.8,1090.9 L832.8,1090.9 L834.8,1091.0 L836.8,1091.0 L838.8,1091.1 L840.8,1091.1 L842.8,1091.2 L844.8,1091.2 L846.8,1091.3 L848.8,1091.3 L850.8,1091.3 L852.8,1091.4 L854.8,1091.4 L856.8,1091.5 L858.8,1091.5 L860.8,1091.6 L862.8,1091.6 L864.8,1091.6 L866.8,1091.7 L868.8,1091.7 L870.8,1091.8 L872.8,1091.8 L874.8,1091.8 L876.8,1091.9 L878.8,1091.9 L880.8,1091.9 L882.8,1092.0 L884.8,1092.0 L886.8,1092.1 L888.8,1092.1 L890.8,1092.1 L892.8,1092.2 L894.8,1092.2 L896.8,1092.2 L898.8,1092.3 L900.8,1092.3 L902.8,1092.3 L904.8,1092.4 L906.8,1092.4 L908.8,1092.4 L910.8,1092.4 L912.8,1092.5 L914.8,1092.5 L916.8,1092.5 L918.8,1092.6 L920.8,1092.6 L922.8,1092.6 L924.8,1092.7 L926.8,1092.7 L928.8,1092.7 L930.8,1092.7 L932.8,1092.8 L934.8,1092.8 L936.8,1092.8 L938.8,1092.8 L940.8,1092.9 L942.8,1092.9 L944.8,1092.9 L946.8,1093.0 L948.8,1093.0 L950.8,1093.0 L952.8,1093.0 L954.8,1093.0 L956.8,1093.1 L958.8,1093.1 L960.8,1093.1 L962.8,1093.1 L964.8,1093.2 L966.8,1093.2 L968.8,1093.2 L970.8,1093.2 L972.8,1093.2 L974.8,1093.3 L976.8,1093.3 L978.8,1093.3 L980.8,1093.3 L982.8,1093.3 L984.8,1093.4 L986.8,1093.4 L988.8,1093.4 L990.8,1093.4 L992.8,1093.4 L994.8,1093.5 L996.8,1093.5 L998.8,1093.5 L1000.8,1093.5 L1002.8,1093.5 L1004.8,1093.5 L1006.8,1093.6 L1008.8,1093.6 L1010.8,1093.6 L1012.8,1093.6 L1014.8,1093.6 L1016.8,1093.6 L1018.8,1093.6 L1020.8,1093.7 L1022.8,1093.7 L1024.8,1093.7 L1026.8,1093.7 L1028.8,1093.7 L1030.8,1093.7 L1032.8,1093.7 L1034.8,1093.8 L1036.8,1093.8 L1038.8,1093.8 L1040.8,1093.8 L1042.8,1093.8 L1044.8,1093.8 L1046.8,1093.8 L1048.8,1093.8 L1050.8,1093.8 L1052.8,1093.9 L1054.8,1093.9 L1056.8,1093.9 L1058.8,1093.9 L1060.8,1093.9 L1062.8,1093.9 L1064.8,1093.9 L1066.9,1093.9 L1068.9,1093.9 L1070.9,1093.9 L1072.9,1093.9 L1074.9,1094.0 L1076.9,1094.0 L1078.9,1094.0 L1080.9,1094.0 L1082.9,1094.0 L1084.9,1094.0 L1086.9,1094.0 L1088.9,1094.0 L1090.9,1094.0 L1092.9,1094.0 L1094.9,1094.0 L1096.9,1094.0 L1098.9,1094.0 L1100.9,1094.0 L1102.9,1094.0 L1104.9,1094.0 L1106.9,1094.1 L1108.9,1094.1 L1110.9,1094.1 L1112.9,1094.1 L1114.9,1094.1 L1116.9,1094.1 L1118.9,1094.1 L1120.9,1094.1 L1122.9,1094.1 L1124.9,1094.1 L1126.9,1094.1 L1128.9,1094.1 L1130.9,1094.1 L1132.9,1094.1 L1134.9,1094.1 L1136.9,1094.1 L1138.9,1094.1 L1140.9,1094.1 L1142.9,1094.1 L1144.9,1094.1 L1146.9,1094.1 L1148.9,1094.1 L1150.9,1094.1 L1152.9,1094.1 L1154.9,1094.1 L1156.9,1094.1 L1158.9,1094.1 L1160.9,1094.1 L1162.9,1094.1 L1164.9,1094.1 L1166.9,1094.1 L1168.9,1094.1 L1170.9,1094.1 L1172.9,1094.1 L1174.9,1094.1 L1176.9,1094.1 L1178.9,1094.1 L1180.9,1094.1 L1182.9,1094.1 L1184.9,1094.1 L1186.9,1094.1 L1188.9,1094.1 L1190.9,1094.1 L1192.9,1094.1 L1194.9,1094.1 L1196.9,1094.1 L1198.9,1094.1 L1200.9,1094.1 L1202.9,1094.1 L1204.9,1094.1 L1206.9,1094.1 L1208.9,1094.1 L1210.9,1094.1 L1212.9,1094.1 L1214.9,1094.1 L1216.9,1094.1 L1218.9,1094.1 L1220.9,1094.1 L1222.9,1094.1 L1224.9,1094.1 L1226.9,1094.1 L1228.9,1094.1 L1230.9,1094.1 L1232.9,1094.1 L1234.9,1094.1 L1236.9,1094.1 L1238.9,1094.1 L1240.9,1094.1 L1242.9,1094.1 L1244.9,1094.0 L1246.9,1094.0 L1248.9,1094.0 L1250.9,1094.0 L1252.9,1094.0 L1254.9,1094.0 L1256.9,1094.0 L1258.9,1094.0 L1260.9,1094.0 L1262.9,1094.0 L1264.9,1094.0 L1266.9,1094.0 L1268.9,1094.0 L1270.9,1094.0 L1272.9,1094.0 L1274.9,1094.0 L1276.9,1094.0 L1278.9,1094.0 L1280.9,1094.0 L1282.9,1094.0 L1284.9,1094.0 L1286.9,1094.0 L1288.9,1094.0 L1290.9,1094.0 L1292.9,1094.0 L1294.9,1094.0 L1296.9,1093.9 L1298.9,1093.9 L1300.9,1093.9 L1302.9,1093.9 L1304.9,1093.9 L1306.9,1093.9 L1308.9,1093.9 L1310.9,1093.9 L1312.9,1093.9 L1314.9,1093.9 L1316.9,1093.9 L1318.9,1093.9 L1320.9,1093.9 L1322.9,1093.9 L1324.9,1093.9 L1326.9,1093.9 L1328.9,1093.9 L1330.9,1093.9 L1332.9,1093.9 L1334.9,1093.9 L1336.9,1093.9 L1338.9,1093.9 L1340.9,1093.9 L1342.9,1093.9 L1344.9,1093.9 L1346.9,1093.8 L1348.9,1093.8 L1350.9,1093.8 L1352.9,1093.8 L1354.9,1093.8 L1356.9,1093.8 L1358.9,1093.8 L1360.9,1093.8 L1362.9,1093.8 L1364.9,1093.8 L1366.9,1093.8 L1368.9,1093.8 L1370.9,1093.8 L1372.9,1093.8 L1374.9,1093.8 L1376.9,1093.8 L1378.9,1093.8 L1380.9,1093.8 L1382.9,1093.8 L1384.9,1093.8 L1386.9,1093.8 L1388.9,1093.8 L1390.9,1093.8 L1392.9,1093.8 L1394.9,1093.8 L1396.9,1093.8 L1398.9,1093.8 L1400.9,1093.8 L1402.9,1093.8 L1404.9,1093.8 L1406.9,1093.8 L1408.9,1093.8 L1410.9,1093.8 L1412.9,1093.8 L1414.9,1093.8 L1416.9,1093.8 L1418.9,1093.8 L1420.9,1093.8 L1422.9,1093.8 L1424.9,1093.8 L1426.9,1093.8 L1428.9,1093.8 L1430.9,1093.8 L1432.9,1093.8 L1434.9,1093.8 L1436.9,1093.8 L1438.9,1093.8 L1440.9,1093.8 L1442.9,1093.8 L1444.9,1093.8 L1446.9,1093.8 L1448.9,1093.8 L1450.9,1093.8 L1452.9,1093.8 L1454.9,1093.8 L1456.9,1093.8 L1458.9,1093.8 L1460.9,1093.8 L1463.0,1093.8 L1465.0,1093.8 L1467.0,1093.8 L1469.0,1093.8 L1471.0,1093.8 L1473.0,1093.8 L1475.0,1093.8 L1477.0,1093.8 L1479.0,1093.8 L1481.0,1093.8 L1483.0,1093.8 L1485.0,1093.8 L1487.0,1093.8 L1489.0,1093.8 L1491.0,1093.8 L1493.0,1093.8 L1495.0,1093.8 L1497.0,1093.8 L1499.0,1093.8 L1501.0,1093.8 L1503.0,1093.8 L1505.0,1093.8 L1507.0,1093.8 L1509.0,1093.8 L1511.0,1093.9 L1513.0,1093.9 L1515.0,1093.9 L1517.0,1093.9 L1519.0,1093.9 L1521.0,1093.9 L1523.0,1093.9 L1525.0,1093.9 L1527.0,1093.9 L1529.0,1093.9 L1531.0,1093.9 L1533.0,1093.9 L1535.0,1093.9 L1537.0,1093.9 L1539.0,1094.0 L1541.0,1094.0 L1543.0,1094.0 L1545.0,1094.0 L1547.0,1094.0 L1549.0,1094.0 L1551.0,1094.0 L1553.0,1094.0 L1555.0,1094.0 L1557.0,1094.0 L1559.0,1094.1 L1561.0,1094.1 L1563.0,1094.1 L1565.0,1094.1 L1567.0,1094.1 L1569.0,1094.1 L1571.0,1094.1 L1573.0,1094.1 L1575.0,1094.1 L1577.0,1094.2 L1579.0,1094.2 L1581.0,1094.2 L1583.0,1094.2 L1585.0,1094.2 L1587.0,1094.2 L1589.0,1094.2 L1591.0,1094.3 L1593.0,1094.3 L1595.0,1094.3 L1597.0,1094.3 L1599.0,1094.3 L1601.0,1094.3 L1603.0,1094.4 L1605.0,1094.4 L1607.0,1094.4 L1609.0,1094.4 L1611.0,1094.4 L1613.0,1094.4 L1615.0,1094.5 L1617.0,1094.5 L1619.0,1094.5 L1621.0,1094.5 L1623.0,1094.5 L1625.0,1094.6 L1627.0,1094.6 L1629.0,1094.6 L1631.0,1094.6 L1633.0,1094.6 L1635.0,1094.7 L1637.0,1094.7 L1639.0,1094.7 L1641.0,1094.7 L1643.0,1094.7 L1645.0,1094.8 L1647.0,1094.8 L1649.0,1094.8 L1651.0,1094.8 L1653.0,1094.9 L1655.0,1094.9 L1657.0,1094.9 L1659.0,1094.9 L1661.0,1095.0 L1663.0,1095.0 L1665.0,1095.0 L1667.0,1095.0 L1669.0,1095.1 L1671.0,1095.1 L1673.0,1095.1 L1675.0,1095.1 L1677.0,1095.2 L1679.0,1095.2 L1681.0,1095.2 L1683.0,1095.3 L1685.0,1095.3 L1687.0,1095.3 L1689.0,1095.3 L1691.0,1095.4 L1693.0,1095.4 L1695.0,1095.4 L1697.0,1095.5 L1699.0,1095.5 L1701.0,1095.5 L1703.0,1095.6 L1705.0,1095.6 L1707.0,1095.6 L1709.0,1095.7 L1711.0,1095.7 L1713.0,1095.7 L1715.0,1095.8 L1717.0,1095.8 L1719.0,1095.8 L1721.0,1095.9" stroke="#880088" stroke-width="9" stroke-linecap="round" stroke-dasharray="0.00 20.68 0.00 20.65 0.00 20.54 0.00 20.21 0.00 19.84 0.00 20.59 0.00 20.79 0.00 17.29 0.00 21.00 0.00 20.80 0.00 20.31 0.00 20.42 0.00 20.35 0.00 20.45 0.00 20.28 0.00 20.42 0.00 20.28 0.00 19.71 0.00 20.30 0.00 20.40 0.00 20.21 0.00 20.21 0.00 20.21 0.00 20.21 0.00 20.49 0.00 20.49 0.00 20.22 0.00 20.22 0.00 20.25 0.00 20.25 0.00 20.30 0.00 20.30 0.00 20.20 0.00 20.20 0.00 20.27 0.00 20.27 0.00 20.21 0.00 20.21 0.00 20.21 0.00 20.21 0.00 20.25 0.00 20.25 0.00 20.40 0.00 20.40 0.00 20.25 0.00 20.25 0.00 20.55 0.00 20.55 0.00 19.40 0.00 20.40 0.00 20.40 0.00 20.45 0.00 20.45 0.00 20.45 0.00 20.45 0.00 20.24 0.00 20.24 0.00 20.24 0.00 20.24 0.00 20.24 0.00 20.24 0.00 20.24 0.00 20.24 0.00 20.20 0.00 20.20 0.00 20.25 0.00 20.25 0.00 20.45 0.00 20.45 0.00 20.20 0.00 20.20 0.00 20.30 0.00 20.31 0.00 20.36 0.00 20.36 0.00 20.40 0.00 1666.67" stroke-dashoffset="3195.28"/>
<path d="M312.5,976.8 L313.9,978.2 L315.5,979.5 L317.1,980.7 L318.7,981.8 L320.5,982.7 L322.3,983.5 L324.2,984.1 L326.2,984.4 L328.2,984.4 L330.2,984.1 L332.1,983.5 L333.9,982.6 L335.5,981.5 L337.1,980.3 L338.6,978.9 L339.9,977.4 L341.2,975.9 L342.4,974.3 L343.5,972.6 L344.6,970.9 L345.7,969.2 L346.7,967.5 L347.6,965.8 L348.6,964.0 L349.5,962.2 L350.4,960.4 L351.2,958.6 L352.1,956.8 L352.9,955.0 L353.8,953.2 L354.6,951.3 L355.4,949.5 L356.2,947.7 L356.9,945.8 L357.7,944.0 L358.4,942.1 L359.2,940.3 L359.9,938.4 L360.7,936.5 L361.4,934.7 L362.1,932.8 L362.9,931.0 L363.6,929.1 L364.4,927.3 L365.1,925.4 L365.9,923.6 L366.7,921.7 L367.5,919.9 L368.3,918.1 L369.1,916.2 L370.0,914.4 L370.8,912.6 L371.7,910.8 L372.5,909.0 L373.3,907.2 L374.2,905.3 L375.0,903.5 L375.7,901.7 L376.5,899.8 L377.2,897.9 L377.9,896.1 L378.6,894.2 L379.2,892.3 L379.9,890.4 L380.5,888.5 L381.1,886.6 L381.7,884.7 L382.3,882.8 L382.9,880.9 L383.5,879.0 L384.1,877.1 L384.8,875.2 L385.4,873.3 L386.0,871.4 L386.7,869.5 L387.3,867.6 L388.0,865.7 L388.7,863.8 L389.4,861.9 L390.1,860.1 L390.8,858.2 L391.5,856.3 L392.2,854.5 L392.9,852.6 L393.6,850.7 L394.3,848.8 L395.1,847.0 L395.8,845.1 L396.5,843.2 L397.2,841.4 L397.9,839.5 L398.6,837.6 L399.3,835.7 L400.0,833.9 L400.6,832.0 L401.3,830.1 L402.0,828.2 L402.7,826.3 L403.4,824.5 L404.0,822.6 L404.7,820.7 L405.4,818.8 L406.0,816.9 L406.7,815.0 L407.4,813.1 L408.0,811.2 L408.7,809.4 L409.3,807.5 L410.0,805.6 L410.6,803.7 L411.3,801.8 L411.9,799.9 L412.5,798.0 L413.2,796.1 L413.8,794.2 L414.4,792.3 L415.1,790.4 L415.7,788.5 L416.3,786.6 L416.9,784.7 L417.6,782.8 L418.2,780.9 L418.8,779.0 L419.4,777.1 L420.0,775.2 L420.6,773.3 L421.3,771.4 L421.9,769.5 L422.5,767.6 L423.1,765.7 L423.7,763.8 L424.3,761.8 L424.9,759.9 L425.5,758.0 L426.1,756.1 L426.7,754.2 L427.3,752.3 L427.9,750.4 L428.4,748.5 L429.0,746.6 L429.6,744.6 L430.2,742.7 L430.8,740.8 L431.4,738.9 L432.0,737.0 L432.5,735.1 L433.1,733.2 L433.7,731.3 L434.3,729.3 L434.9,727.4 L435.4,725.5 L436.0,723.6 L436.6,721.7 L437.2,719.8 L437.7,717.8 L438.3,715.9 L438.9,714.0 L439.4,712.1 L440.0,710.2 L440.6,708.3 L441.2,706.3 L441.7,704.4 L442.3,702.5 L442.9,700.6 L443.4,698.7 L444.0,696.7 L444.6,694.8 L445.1,692.9 L445.7,691.0 L446.3,689.1 L446.8,687.2 L447.4,685.2 L448.0,683.3 L448.5,681.4 L449.1,679.5 L449.7,677.6 L450.2,675.6 L450.8,673.7 L451.3,671.8 L451.9,669.9 L452.5,668.0 L453.0,666.0 L453.6,664.1 L454.2,662.2 L454.7,660.3 L455.3,658.4 L455.9,656.5 L456.4,654.5 L457.0,652.6 L457.6,650.7 L458.1,648.8 L458.7,646.9 L459.3,644.9 L459.9,643.0 L460.4,641.1 L461.0,639.2 L461.6,637.3 L462.2,635.4 L462.7,633.4 L463.3,631.5 L463.9,629.6 L464.5,627.7 L465.0,625.8 L465.6,623.9 L466.2,622.0 L466.8,620.0 L467.4,618.1 L467.9,616.2 L468.5,614.3 L469.1,612.4 L469.7,610.5 L470.3,608.6 L470.9,606.7 L471.5,604.7 L472.1,602.8 L472.7,600.9 L473.3,599.0 L473.9,597.1 L474.5,595.2 L475.1,593.3 L475.7,591.4 L476.3,589.5 L476.9,587.6 L477.5,585.7 L478.1,583.8 L478.7,581.8 L479.3,579.9 L479.9,578.0 L480.6,576.1 L481.2,574.2 L481.8,572.3 L482.4,570.4 L483.0,568.5 L483.7,566.6 L484.3,564.7 L484.9,562.8 L485.6,560.9 L486.2,559.0 L486.9,557.2 L487.5,555.3 L488.1,553.4 L488.8,551.5 L489.4,549.6 L490.1,547.7 L490.8,545.8 L491.4,543.9 L492.1,542.0 L492.7,540.1 L493.4,538.3 L494.1,536.4 L494.7,534.5 L495.4,532.6 L496.1,530.7 L496.8,528.8 L497.5,527.0 L498.2,525.1 L498.9,523.2 L499.5,521.3 L500.2,519.5 L500.9,517.6 L501.7,515.7 L502.4,513.8 L503.1,512.0 L503.9,510.1 L504.7,508.3 L505.5,506.5 L506.4,504.7 L507.3,502.9 L508.3,501.2 L509.3,499.4 L510.4,497.8 L511.6,496.1 L512.8,494.6 L514.1,493.0 L515.4,491.5 L516.8,490.1 L518.2,488.7 L519.7,487.4 L521.3,486.2 L522.9,485.0 L524.6,483.9 L526.4,482.9 L528.2,482.1 L530.0,481.3 L531.9,480.7 L533.9,480.2 L535.8,479.8 L537.8,479.6 L539.8,479.4 L541.8,479.4 L543.8,479.5 L545.8,479.7 L547.8,480.0 L549.7,480.4 L551.7,480.8 L553.6,481.4 L555.5,482.0 L557.4,482.7 L559.2,483.5 L561.0,484.4 L562.8,485.3 L564.5,486.3 L566.2,487.4 L567.9,488.5 L569.5,489.7 L571.1,490.9 L572.6,492.1 L574.1,493.5 L575.6,494.8 L577.1,496.2 L578.5,497.6 L579.9,499.0 L581.2,500.5 L582.6,502.0 L583.9,503.5 L585.2,505.0 L586.4,506.6 L587.7,508.1 L588.9,509.7 L590.2,511.3 L591.4,512.9 L592.6,514.5 L593.8,516.1 L595.0,517.7 L596.2,519.3 L597.4,520.9 L598.5,522.5 L599.7,524.1 L600.9,525.7 L602.2,527.3 L603.4,528.9 L604.6,530.5 L605.8,532.0 L607.1,533.6 L608.3,535.2 L609.6,536.7 L610.9,538.3 L612.1,539.8 L613.4,541.4 L614.7,542.9 L615.9,544.5 L617.2,546.0 L618.5,547.6 L619.7,549.1 L621.0,550.7 L622.2,552.3 L623.4,553.8 L624.6,555.4 L625.8,557.0 L627.0,558.7 L628.2,560.3 L629.3,561.9 L630.5,563.6 L631.6,565.2 L632.7,566.9 L633.8,568.6 L634.8,570.3 L635.9,571.9 L637.0,573.6 L638.0,575.4 L639.0,577.1 L640.0,578.8 L641.0,580.5 L642.0,582.3 L643.0,584.0 L644.0,585.8 L644.9,587.5 L645.9,589.3 L646.8,591.0 L647.8,592.8 L648.7,594.6 L649.6,596.4 L650.5,598.2 L651.4,599.9 L652.3,601.7 L653.2,603.5 L654.1,605.3 L654.9,607.1 L655.8,608.9 L656.7,610.7 L657.5,612.5 L658.4,614.3 L659.2,616.1 L660.1,618.0 L660.9,619.8 L661.8,621.6 L662.6,623.4 L663.5,625.2 L664.3,627.0 L665.2,628.8 L666.0,630.6 L666.9,632.5 L667.7,634.3 L668.6,636.1 L669.4,637.9 L670.3,639.7 L671.1,641.5 L672.0,643.3 L672.8,645.1 L673.7,646.9 L674.6,648.7 L675.4,650.5 L676.3,652.3 L677.2,654.1 L678.1,655.9 L679.0,657.7 L679.9,659.5 L680.8,661.3 L681.7,663.1 L682.6,664.8 L683.5,666.6 L684.4,668.4 L685.4,670.2 L686.3,671.9 L687.2,673.7 L688.2,675.5 L689.1,677.2 L690.1,679.0 L691.0,680.8 L692.0,682.5 L693.0,684.3 L693.9,686.0 L694.9,687.8 L695.9,689.5 L696.9,691.2 L697.9,693.0 L698.9,694.7 L699.9,696.4 L700.9,698.2 L701.9,699.9 L702.9,701.6 L703.9,703.3 L704.9,705.1 L706.0,706.8 L707.0,708.5 L708.1,710.2 L709.1,711.9 L710.2,713.6 L711.2,715.3 L712.3,717.0 L713.4,718.7 L714.4,720.4 L715.5,722.0 L716.6,723.7 L717.7,725.4 L718.8,727.1 L719.9,728.7 L721.0,730.4 L722.1,732.0 L723.3,733.7 L724.4,735.4 L725.5,737.0 L726.7,738.6 L727.8,740.3 L729.0,741.9 L730.1,743.6 L731.3,745.2 L732.5,746.8 L733.6,748.4 L734.8,750.0 L736.0,751.6 L737.2,753.2 L738.4,754.8 L739.6,756.4 L740.8,758.0 L742.1,759.6 L743.3,761.2 L744.5,762.8 L745.7,764.3 L747.0,765.9 L748.2,767.5 L749.5,769.0 L750.8,770.6 L752.0,772.1 L753.3,773.7 L754.6,775.2 L755.9,776.7 L757.2,778.2 L758.5,779.8 L759.8,781.3 L761.1,782.8 L762.4,784.3 L763.8,785.8 L765.1,787.3 L766.4,788.8 L767.8,790.2 L769.1,791.7 L770.5,793.2 L771.9,794.6 L773.3,796.1 L774.6,797.5 L776.0,799.0 L777.4,800.4 L778.8,801.8 L780.2,803.2 L781.6,804.7 L783.1,806.1 L784.5,807.5 L785.9,808.9 L787.4,810.2 L788.8,811.6 L790.3,813.0 L791.7,814.4 L793.2,815.7 L794.7,817.1 L796.2,818.4 L797.7,819.7 L799.2,821.1 L800.7,822.4 L802.2,823.7 L803.7,825.0 L805.2,826.3 L806.7,827.6 L808.3,828.9 L809.8,830.1 L811.4,831.4 L812.9,832.7 L814.5,833.9 L816.0,835.2 L817.6,836.4 L819.2,837.7 L820.8,838.9 L822.4,840.1 L823.9,841.3 L825.5,842.5 L827.1,843.7 L828.7,844.9 L830.3,846.1 L831.9,847.3 L833.6,848.5 L835.2,849.7 L836.8,850.8 L838.4,852.0 L840.1,853.2 L841.7,854.3 L843.3,855.5 L845.0,856.6 L846.6,857.7 L848.3,858.9 L849.9,860.0 L851.6,861.1 L853.2,862.3 L854.9,863.4 L856.5,864.5 L858.2,865.6 L859.9,866.7 L861.5,867.8 L863.2,868.9 L864.9,870.0 L866.6,871.1 L868.3,872.2 L869.9,873.3 L871.6,874.3 L873.3,875.4 L875.0,876.5 L876.7,877.6 L878.4,878.6 L880.1,879.7 L881.8,880.8 L883.4,881.8 L885.1,882.9 L886.8,884.0 L888.5,885.0 L890.2,886.1 L891.9,887.1 L893.6,888.2 L895.3,889.2 L897.1,890.3 L898.8,891.3 L900.5,892.3 L902.2,893.4 L903.9,894.4 L905.6,895.5 L907.3,896.5 L909.0,897.5 L910.7,898.6 L912.5,899.6 L914.2,900.6 L915.9,901.6 L917.6,902.7 L919.3,903.7 L921.1,904.7 L922.8,905.7 L924.5,906.7 L926.2,907.7 L928.0,908.7 L929.7,909.8 L931.4,910.8 L933.1,911.8 L934.9,912.8 L936.6,913.8 L938.3,914.8 L940.1,915.8 L941.8,916.8 L943.5,917.8 L945.3,918.8 L947.0,919.8 L948.7,920.8 L950.5,921.8 L952.2,922.8 L953.9,923.8 L955.7,924.7 L957.4,925.7 L959.2,926.7 L960.9,927.7 L962.6,928.7 L964.4,929.7 L966.1,930.7 L967.9,931.7 L969.6,932.6 L971.3,933.6 L973.1,934.6 L974.8,935.6 L976.6,936.6 L978.3,937.5 L980.1,938.5 L981.8,939.5 L983.5,940.5 L985.3,941.5 L987.0,942.4 L988.8,943.4 L990.5,944.4 L992.3,945.4 L994.0,946.3 L995.8,947.3 L997.5,948.3 L999.3,949.3 L1001.0,950.2 L1002.8,951.2 L1004.5,952.2 L1006.3,953.1 L1008.0,954.1 L1009.8,955.1 L1011.5,956.0 L1013.3,957.0 L1015.1,957.9 L1016.8,958.9 L1018.6,959.8 L1020.3,960.8 L1022.1,961.7 L1023.9,962.7 L1025.6,963.6 L1027.4,964.5 L1029.2,965.5 L1030.9,966.4 L1032.7,967.3 L1034.5,968.2 L1036.3,969.1 L1038.1,970.1 L1039.8,971.0 L1041.6,971.9 L1043.4,972.8 L1045.2,973.7 L1047.0,974.5 L1048.8,975.4 L1050.6,976.3 L1052.4,977.2 L1054.2,978.1 L1056.0,978.9 L1057.8,979.8 L1059.6,980.6 L1061.4,981.5 L1063.2,982.3 L1065.0,983.2 L1066.9,984.0 L1068.7,984.8 L1070.5,985.7 L1072.3,986.5 L1074.2,987.3 L1076.0,988.1 L1077.8,988.9 L1079.7,989.7 L1081.5,990.4 L1083.4,991.2 L1085.2,992.0 L1087.1,992.8 L1088.9,993.5 L1090.8,994.3 L1092.6,995.0 L1094.5,995.8 L1096.3,996.5 L1098.2,997.3 L1100.0,998.0 L1101.9,998.7 L1103.8,999.5 L1105.6,1000.2 L1107.5,1000.9 L1109.3,1001.6 L1111.2,1002.4 L1113.1,1003.1 L1114.9,1003.8 L1116.8,1004.6 L1118.7,1005.3 L1120.5,1006.0 L1122.4,1006.7 L1124.3,1007.5 L1126.1,1008.2 L1128.0,1008.9 L1129.8,1009.7 L1131.7,1010.4 L1133.6,1011.1 L1135.4,1011.9 L1137.3,1012.6 L1139.1,1013.4 L1141.0,1014.1 L1142.8,1014.9 L1144.7,1015.7 L1146.5,1016.4 L1148.4,1017.2 L1150.2,1018.0 L1152.1,1018.8 L1153.9,1019.5 L1155.7,1020.3 L1157.6,1021.1 L1159.4,1021.9 L1161.3,1022.6 L1163.1,1023.4 L1165.0,1024.2 L1166.8,1024.9 L1168.7,1025.7 L1170.5,1026.4 L1172.4,1027.2 L1174.3,1027.9 L1176.1,1028.6 L1178.0,1029.4 L1179.8,1030.1 L1181.7,1030.8 L1183.6,1031.5 L1185.5,1032.2 L1187.4,1032.9 L1189.2,1033.5 L1191.1,1034.2 L1193.0,1034.8 L1194.9,1035.5 L1196.8,1036.1 L1198.7,1036.7 L1200.6,1037.3 L1202.5,1037.9 L1204.5,1038.5 L1206.4,1039.0 L1208.3,1039.6 L1210.2,1040.1 L1212.1,1040.7 L1214.1,1041.2 L1216.0,1041.8 L1217.9,1042.3 L1219.9,1042.8 L1221.8,1043.3 L1223.7,1043.8 L1225.7,1044.2 L1227.6,1044.7 L1229.6,1045.2 L1231.5,1045.7 L1233.5,1046.1 L1235.4,1046.6 L1237.4,1047.0 L1239.3,1047.4 L1241.3,1047.8 L1243.2,1048.3 L1245.2,1048.7 L1247.2,1049.1 L1249.1,1049.5 L1251.1,1049.9 L1253.0,1050.3 L1255.0,1050.6 L1257.0,1051.0 L1258.9,1051.4 L1260.9,1051.8 L1262.9,1052.1 L1264.8,1052.5 L1266.8,1052.8 L1268.8,1053.2 L1270.7,1053.5 L1272.7,1053.9 L1274.7,1054.2 L1276.7,1054.6 L1278.6,1054.9 L1280.6,1055.2 L1282.6,1055.6 L1284.5,1055.9 L1286.5,1056.2 L1288.5,1056.5 L1290.5,1056.8 L1292.4,1057.1 L1294.4,1057.5 L1296.4,1057.8 L1298.4,1058.1 L1300.4,1058.4 L1302.3,1058.7 L1304.3,1059.0 L1306.3,1059.3 L1308.3,1059.6 L1310.2,1059.9 L1312.2,1060.2 L1314.2,1060.5 L1316.2,1060.8 L1318.2,1061.0 L1320.1,1061.3 L1322.1,1061.6 L1324.1,1061.9 L1326.1,1062.2 L1328.1,1062.4 L1330.0,1062.7 L1332.0,1063.0 L1334.0,1063.3 L1336.0,1063.5 L1338.0,1063.8 L1340.0,1064.1 L1341.9,1064.3 L1343.9,1064.6 L1345.9,1064.8 L1347.9,1065.1 L1349.9,1065.4 L1351.9,1065.6 L1353.8,1065.9 L1355.8,1066.1 L1357.8,1066.4 L1359.8,1066.6 L1361.8,1066.8 L1363.8,1067.1 L1365.8,1067.3 L1367.7,1067.6 L1369.7,1067.8 L1371.7,1068.0 L1373.7,1068.3 L1375.7,1068.5 L1377.7,1068.7 L1379.7,1068.9 L1381.7,1069.2 L1383.6,1069.4 L1385.6,1069.6 L1387.6,1069.8 L1389.6,1070.1 L1391.6,1070.3 L1393.6,1070.5 L1395.6,1070.7 L1397.6,1070.9 L1399.6,1071.1 L1401.5,1071.3 L1403.5,1071.5 L1405.5,1071.7 L1407.5,1071.9 L1409.5,1072.1 L1411.5,1072.3 L1413.5,1072.5 L1415.5,1072.7 L1417.5,1072.9 L1419.5,1073.1 L1421.5,1073.3 L1423.4,1073.5 L1425.4,1073.7 L1427.4,1073.9 L1429.4,1074.1 L1431.4,1074.3 L1433.4,1074.4 L1435.4,1074.6 L1437.4,1074.8 L1439.4,1075.0 L1441.4,1075.1 L1443.4,1075.3 L1445.4,1075.5 L1447.4,1075.7 L1449.3,1075.8 L1451.3,1076.0 L1453.3,1076.2 L1455.3,1076.3 L1457.3,1076.5 L1459.3,1076.7 L1461.3,1076.8 L1463.3,1077.0 L1465.3,1077.1 L1467.3,1077.3 L1469.3,1077.5 L1471.3,1077.6 L1473.3,1077.8 L1475.3,1077.9 L1477.3,1078.1 L1479.3,1078.2 L1481.3,1078.4 L1483.2,1078.5 L1485.2,1078.7 L1487.2,1078.8 L1489.2,1079.0 L1491.2,1079.1 L1493.2,1079.2 L1495.2,1079.4 L1497.2,1079.5 L1499.2,1079.7 L1501.2,1079.8 L1503.2,1079.9 L1505.2,1080.1 L1507.2,1080.2 L1509.2,1080.3 L1511.2,1080.5 L1513.2,1080.6 L1515.2,1080.7 L1517.2,1080.8 L1519.2,1081.0 L1521.2,1081.1 L1523.2,1081.2 L1525.2,1081.3 L1527.2,1081.5 L1529.2,1081.6 L1531.2,1081.7 L1533.2,1081.8 L1535.1,1081.9 L1537.1,1082.0 L1539.1,1082.2 L1541.1,1082.3 L1543.1,1082.4 L1545.1,1082.5 L1547.1,1082.6 L1549.1,1082.7 L1551.1,1082.8 L1553.1,1082.9 L1555.1,1083.0 L1557.1,1083.1 L1559.1,1083.3 L1561.1,1083.4 L1563.1,1083.5 L1565.1,1083.6 L1567.1,1083.7 L1569.1,1083.8 L1571.1,1083.9 L1573.1,1084.0 L1575.1,1084.1 L1577.1,1084.2 L1579.1,1084.3 L1581.1,1084.4 L1583.1,1084.4 L1585.1,1084.5 L1587.1,1084.6 L1589.1,1084.7 L1591.1,1084.8 L1593.1,1084.9 L1595.1,1085.0 L1597.1,1085.1 L1599.1,1085.2 L1601.1,1085.3 L1603.1,1085.4 L1605.1,1085.4 L1607.1,1085.5 L1609.1,1085.6 L1611.1,1085.7 L1613.1,1085.8 L1615.1,1085.9 L1617.1,1085.9 L1619.1,1086.0 L1621.1,1086.1 L1623.1,1086.2 L1625.1,1086.3 L1627.1,1086.4 L1629.1,1086.4 L1631.1,1086.5 L1633.1,1086.6 L1635.1,1086.7 L1637.1,1086.7 L1639.1,1086.8 L1641.1,1086.9 L1643.1,1087.0 L1645.1,1087.0 L1647.1,1087.1 L1649.1,1087.2 L1651.1,1087.3 L1653.1,1087.3 L1655.0,1087.4 L1657.0,1087.5 L1659.0,1087.6 L1661.0,1087.6 L1663.0,1087.7 L1665.0,1087.8 L1667.0,1087.8 L1669.0,1087.9 L1671.0,1088.0 L1673.0,1088.1 L1675.0,1088.1 L1677.0,1088.2 L1679.0,1088.3 L1681.0,1088.3 L1683.0,1088.4 L1685.0,1088.5 L1687.0,1088.5 L1689.0,1088.6 L1691.0,1088.7 L1693.0,1088.7 L1695.0,1088.8 L1697.0,1088.9 L1699.0,1088.9 L1701.0,1089.0 L1703.0,1089.1 L1705.0,1089.1 L1707.0,1089.2 L1709.0,1089.2 L1711.0,1089.3 L1713.0,1089.4 L1715.0,1089.4 L1717.0,1089.5 L1719.0,1089.6 L1721.0,1089.6" stroke="#FF8000" stroke-width="6.8" stroke-dasharray="13.40 15.00 19.70 15.30 19.80 15.20 19.50 15.00 19.50 15.00 19.70 15.20 19.50 15.00 19.20 14.60 19.30 15.10 19.70 15.20 19.70 15.10 19.70 15.10 19.70 15.00 19.70 15.30 19.50 14.70 19.20 14.60 19.40 15.20 19.60 15.00 19.90 15.50 20.20 15.50 20.20 15.60 19.40 14.20 19.00 15.20 19.30 14.60 19.40 15.10 19.20 14.30 19.20 15.20 19.80 15.30 19.80 15.30 19.60 15.10 19.70 15.20 18.70 13.50 18.10 14.30 19.30 15.40 19.60 14.80 19.50 15.20 19.40 14.50 19.20 15.10 19.70 15.10 19.70 15.10 19.40 14.70 19.00 14.60 19.30 15.20 19.90 15.50 19.70 14.90 19.60 15.30 19.60 15.00 19.40 15.00 19.60 15.30 19.60 14.80 19.60 15.20 19.80 15.20 19.60 14.90 19.40 15.00 19.70 15.20 19.50 14.60 19.50 15.40 19.70 15.00 52.75 1000.00"/>
<path d="M312.7,943.6 L314.4,942.5 L316.0,941.4 L317.6,940.2 L319.2,938.9 L320.7,937.6 L322.2,936.2 L323.6,934.8 L325.0,933.4 L326.3,931.9 L327.6,930.4 L328.8,928.8 L330.0,927.2 L331.1,925.5 L332.2,923.9 L333.3,922.2 L334.3,920.4 L335.3,918.7 L336.2,916.9 L337.1,915.1 L338.0,913.3 L338.8,911.5 L339.6,909.7 L340.4,907.8 L341.2,906.0 L341.9,904.1 L342.7,902.3 L343.4,900.4 L344.1,898.5 L344.7,896.6 L345.4,894.8 L346.1,892.9 L346.7,891.0 L347.4,889.1 L348.0,887.2 L348.6,885.3 L349.3,883.4 L349.9,881.5 L350.5,879.6 L351.1,877.7 L351.7,875.8 L352.3,873.9 L352.9,872.0 L353.5,870.0 L354.1,868.1 L354.7,866.2 L355.3,864.3 L355.9,862.4 L356.4,860.5 L357.0,858.5 L357.6,856.6 L358.1,854.7 L358.7,852.8 L359.2,850.9 L359.8,848.9 L360.3,847.0 L360.8,845.1 L361.4,843.1 L361.9,841.2 L362.4,839.3 L362.9,837.4 L363.4,835.4 L364.0,833.5 L364.5,831.5 L365.0,829.6 L365.5,827.7 L366.0,825.7 L366.5,823.8 L367.0,821.9 L367.5,819.9 L367.9,818.0 L368.4,816.0 L368.9,814.1 L369.4,812.2 L369.9,810.2 L370.3,808.3 L370.8,806.3 L371.3,804.4 L371.8,802.4 L372.2,800.5 L372.7,798.5 L373.1,796.6 L373.6,794.6 L374.1,792.7 L374.5,790.7 L375.0,788.8 L375.4,786.9 L375.9,784.9 L376.3,783.0 L376.8,781.0 L377.2,779.1 L377.7,777.1 L378.1,775.2 L378.6,773.2 L379.0,771.3 L379.5,769.3 L379.9,767.3 L380.4,765.4 L380.8,763.4 L381.2,761.5 L381.7,759.5 L382.1,757.6 L382.6,755.6 L383.0,753.7 L383.4,751.7 L383.9,749.8 L384.3,747.8 L384.7,745.9 L385.2,743.9 L385.6,742.0 L386.0,740.0 L386.5,738.1 L386.9,736.1 L387.3,734.2 L387.8,732.2 L388.2,730.2 L388.6,728.3 L389.1,726.3 L389.5,724.4 L389.9,722.4 L390.3,720.5 L390.8,718.5 L391.2,716.6 L391.6,714.6 L392.0,712.6 L392.4,710.7 L392.9,708.7 L393.3,706.8 L393.7,704.8 L394.1,702.9 L394.5,700.9 L395.0,698.9 L395.4,697.0 L395.8,695.0 L396.2,693.1 L396.6,691.1 L397.0,689.2 L397.4,687.2 L397.9,685.2 L398.3,683.3 L398.7,681.3 L399.1,679.4 L399.5,677.4 L399.9,675.4 L400.3,673.5 L400.7,671.5 L401.1,669.6 L401.5,667.6 L401.9,665.7 L402.3,663.7 L402.7,661.7 L403.1,659.8 L403.6,657.8 L404.0,655.9 L404.4,653.9 L404.8,651.9 L405.2,650.0 L405.6,648.0 L406.0,646.0 L406.4,644.1 L406.8,642.1 L407.1,640.2 L407.5,638.2 L407.9,636.2 L408.3,634.3 L408.7,632.3 L409.1,630.4 L409.5,628.4 L409.9,626.4 L410.3,624.5 L410.7,622.5 L411.1,620.5 L411.5,618.6 L411.9,616.6 L412.3,614.7 L412.7,612.7 L413.0,610.7 L413.4,608.8 L413.8,606.8 L414.2,604.8 L414.6,602.9 L415.0,600.9 L415.4,599.0 L415.7,597.0 L416.1,595.0 L416.5,593.1 L416.9,591.1 L417.3,589.1 L417.7,587.2 L418.0,585.2 L418.4,583.2 L418.8,581.3 L419.2,579.3 L419.6,577.3 L420.0,575.4 L420.3,573.4 L420.7,571.5 L421.1,569.5 L421.5,567.5 L421.8,565.6 L422.2,563.6 L422.6,561.6 L423.0,559.7 L423.4,557.7 L423.7,555.7 L424.1,553.8 L424.5,551.8 L424.9,549.8 L425.2,547.9 L425.6,545.9 L426.0,543.9 L426.4,542.0 L426.7,540.0 L427.1,538.0 L427.5,536.1 L427.8,534.1 L428.2,532.1 L428.6,530.2 L429.0,528.2 L429.3,526.2 L429.7,524.3 L430.1,522.3 L430.4,520.3 L430.8,518.4 L431.2,516.4 L431.5,514.4 L431.9,512.5 L432.3,510.5 L432.7,508.5 L433.0,506.6 L433.4,504.6 L433.8,502.6 L434.1,500.7 L434.5,498.7 L434.9,496.7 L435.2,494.8 L435.6,492.8 L436.0,490.8 L436.3,488.9 L436.7,486.9 L437.1,484.9 L437.4,483.0 L437.8,481.0 L438.2,479.0 L438.5,477.1 L438.9,475.1 L439.3,473.1 L439.6,471.2 L440.0,469.2 L440.4,467.2 L440.8,465.3 L441.1,463.3 L441.5,461.3 L441.9,459.4 L442.2,457.4 L442.6,455.4 L443.0,453.5 L443.3,451.5 L443.7,449.5 L444.1,447.6 L444.4,445.6 L444.8,443.6 L445.2,441.7 L445.5,439.7 L445.9,437.7 L446.3,435.8 L446.6,433.8 L447.0,431.8 L447.4,429.9 L447.8,427.9 L448.1,425.9 L448.5,424.0 L448.9,422.0 L449.2,420.0 L449.6,418.1 L450.0,416.1 L450.4,414.1 L450.7,412.2 L451.1,410.2 L451.5,408.2 L451.8,406.3 L452.2,404.3 L452.6,402.3 L453.0,400.4 L453.3,398.4 L453.7,396.4 L454.1,394.5 L454.5,392.5 L454.8,390.5 L455.2,388.6 L455.6,386.6 L456.0,384.7 L456.3,382.7 L456.7,380.7 L457.1,378.8 L457.5,376.8 L457.8,374.8 L458.2,372.9 L458.6,370.9 L459.0,368.9 L459.4,367.0 L459.7,365.0 L460.1,363.0 L460.5,361.1 L460.9,359.1 L461.3,357.1 L461.7,355.2 L462.0,353.2 L462.4,351.3 L462.8,349.3 L463.2,347.3 L463.6,345.4 L464.0,343.4 L464.4,341.4 L464.7,339.5 L465.1,337.5 L465.5,335.5 L465.9,333.6 L466.3,331.6 L466.7,329.7 L467.1,327.7 L467.5,325.7 L467.9,323.8 L468.3,321.8 L468.7,319.9 L469.1,317.9 L469.5,315.9 L469.9,314.0 L470.2,312.0 L470.6,310.0 L471.0,308.1 L471.4,306.1 L471.8,304.2 L472.2,302.2 L472.6,300.2 L473.1,298.3 L473.5,296.3 L473.9,294.4 L474.3,292.4 L474.7,290.4 L475.1,288.5 L475.5,286.5 L475.9,284.6 L476.3,282.6 L476.7,280.6 L477.1,278.7 L477.5,276.7 L477.9,274.8 L478.4,272.8 L478.8,270.9 L479.2,268.9 L479.6,266.9 L480.0,265.0 L480.4,263.0 L480.9,261.1 L481.3,259.1 L481.7,257.2 L482.1,255.2 L482.5,253.2 L483.0,251.3 L483.4,249.3 L483.8,247.4 L484.2,245.4 L484.7,243.5 L485.1,241.5 L485.5,239.6 L485.9,237.6 L486.4,235.6 L486.8,233.7 L487.2,231.7 L487.6,229.8 L488.1,227.8 L488.5,225.9 L488.9,223.9 L489.3,222.0 L489.7,220.0 L490.1,218.0 L490.6,216.1 L491.0,214.1 L491.4,212.2 L491.8,210.2 L492.2,208.2 L492.6,206.3 L493.0,204.3 L493.4,202.4 L493.8,200.4 L494.2,198.4 L494.6,196.5 L495.0,194.5 L495.4,192.6 L495.8,190.6 L496.2,188.6 L496.6,186.7 L497.0,184.7 L497.4,182.7 L497.7,180.8 L498.1,178.8 L498.5,176.9 L498.9,174.9 L499.3,172.9 L499.7,171.0 L500.1,169.0 L500.5,167.1 L501.0,165.1 L501.4,163.2 L501.9,161.2 L502.4,159.3 L502.9,157.3 L503.4,155.4 L504.0,153.5 L504.6,151.6 L505.2,149.7 L505.8,147.8 L506.5,145.9 L507.1,144.0 L507.9,142.1 L508.6,140.3 L509.4,138.4 L510.3,136.6 L511.1,134.8 L512.0,133.0 L513.0,131.3 L514.0,129.5 L515.0,127.8 L516.1,126.2 L517.2,124.5 L518.4,122.9 L519.6,121.3 L520.9,119.7 L522.2,118.2 L523.6,116.8 L525.0,115.3 L526.4,114.0 L527.9,112.7 L529.5,111.4 L531.2,110.3 L532.9,109.3 L534.7,108.4 L536.6,107.7 L538.5,107.2 L540.5,107.0 L542.5,106.9 L544.5,107.1 L546.5,107.5 L548.4,108.0 L550.3,108.7 L552.1,109.5 L553.9,110.5 L555.6,111.5 L557.2,112.7 L558.7,113.9 L560.2,115.3 L561.6,116.7 L563.0,118.2 L564.3,119.7 L565.5,121.3 L566.7,122.9 L567.9,124.5 L569.0,126.1 L570.1,127.8 L571.2,129.5 L572.2,131.2 L573.3,132.9 L574.3,134.6 L575.4,136.3 L576.4,138.0 L577.5,139.7 L578.5,141.5 L579.5,143.2 L580.6,144.9 L581.6,146.6 L582.7,148.3 L583.7,150.0 L584.8,151.7 L585.8,153.4 L586.8,155.1 L587.8,156.8 L588.9,158.6 L589.9,160.3 L590.9,162.0 L591.9,163.7 L592.9,165.5 L593.9,167.2 L594.9,169.0 L595.9,170.7 L596.8,172.5 L597.8,174.2 L598.8,176.0 L599.7,177.7 L600.6,179.5 L601.6,181.3 L602.5,183.0 L603.4,184.8 L604.3,186.6 L605.3,188.4 L606.2,190.2 L607.1,191.9 L607.9,193.7 L608.8,195.5 L609.7,197.3 L610.6,199.1 L611.4,200.9 L612.3,202.8 L613.1,204.6 L614.0,206.4 L614.8,208.2 L615.6,210.0 L616.5,211.8 L617.3,213.7 L618.1,215.5 L618.9,217.3 L619.7,219.2 L620.5,221.0 L621.3,222.8 L622.1,224.7 L622.9,226.5 L623.6,228.4 L624.4,230.2 L625.2,232.1 L625.9,233.9 L626.7,235.8 L627.4,237.6 L628.2,239.5 L628.9,241.3 L629.6,243.2 L630.4,245.1 L631.1,246.9 L631.8,248.8 L632.5,250.7 L633.2,252.5 L634.0,254.4 L634.7,256.3 L635.4,258.2 L636.0,260.0 L636.7,261.9 L637.4,263.8 L638.1,265.7 L638.8,267.6 L639.5,269.4 L640.1,271.3 L640.8,273.2 L641.5,275.1 L642.1,277.0 L642.8,278.9 L643.4,280.8 L644.1,282.7 L644.7,284.6 L645.4,286.5 L646.0,288.4 L646.6,290.2 L647.3,292.1 L647.9,294.0 L648.5,295.9 L649.2,297.8 L649.8,299.7 L650.4,301.6 L651.0,303.6 L651.6,305.5 L652.3,307.4 L652.9,309.3 L653.5,311.2 L654.1,313.1 L654.7,315.0 L655.3,316.9 L655.9,318.8 L656.5,320.7 L657.1,322.6 L657.7,324.5 L658.3,326.4 L658.9,328.4 L659.5,330.3 L660.1,332.2 L660.6,334.1 L661.2,336.0 L661.8,337.9 L662.4,339.8 L663.0,341.7 L663.6,343.7 L664.2,345.6 L664.7,347.5 L665.3,349.4 L665.9,351.3 L666.5,353.2 L667.1,355.1 L667.6,357.1 L668.2,359.0 L668.8,360.9 L669.4,362.8 L670.0,364.7 L670.5,366.6 L671.1,368.5 L671.7,370.5 L672.3,372.4 L672.9,374.3 L673.4,376.2 L674.0,378.1 L674.6,380.0 L675.2,382.0 L675.8,383.9 L676.4,385.8 L676.9,387.7 L677.5,389.6 L678.1,391.5 L678.7,393.4 L679.3,395.3 L679.9,397.3 L680.5,399.2 L681.1,401.1 L681.6,403.0 L682.2,404.9 L682.8,406.8 L683.4,408.7 L684.0,410.6 L684.6,412.5 L685.2,414.5 L685.9,416.4 L686.5,418.3 L687.1,420.2 L687.7,422.1 L688.3,424.0 L688.9,425.9 L689.5,427.8 L690.2,429.7 L690.8,431.6 L691.4,433.5 L692.0,435.4 L692.7,437.3 L693.3,439.2 L693.9,441.1 L694.6,443.0 L695.2,444.9 L695.9,446.8 L696.5,448.7 L697.2,450.5 L697.8,452.4 L698.5,454.3 L699.2,456.2 L699.8,458.1 L700.5,460.0 L701.2,461.9 L701.9,463.8 L702.5,465.6 L703.2,467.5 L703.9,469.4 L704.6,471.3 L705.3,473.1 L706.0,475.0 L706.7,476.9 L707.4,478.8 L708.2,480.6 L708.9,482.5 L709.6,484.4 L710.3,486.2 L711.1,488.1 L711.8,489.9 L712.5,491.8 L713.3,493.7 L714.0,495.5 L714.8,497.4 L715.5,499.2 L716.3,501.1 L717.0,502.9 L717.8,504.8 L718.6,506.6 L719.3,508.5 L720.1,510.3 L720.9,512.2 L721.6,514.0 L722.4,515.9 L723.2,517.7 L724.0,519.6 L724.8,521.4 L725.6,523.2 L726.3,525.1 L727.1,526.9 L727.9,528.7 L728.7,530.6 L729.5,532.4 L730.3,534.2 L731.1,536.1 L731.9,537.9 L732.7,539.7 L733.5,541.6 L734.4,543.4 L735.2,545.2 L736.0,547.1 L736.8,548.9 L737.6,550.7 L738.4,552.5 L739.3,554.4 L740.1,556.2 L740.9,558.0 L741.7,559.8 L742.6,561.6 L743.4,563.5 L744.3,565.3 L745.1,567.1 L746.0,568.9 L746.8,570.7 L747.7,572.5 L748.5,574.3 L749.4,576.1 L750.3,577.9 L751.2,579.7 L752.0,581.5 L752.9,583.3 L753.8,585.1 L754.7,586.9 L755.6,588.7 L756.5,590.5 L757.5,592.2 L758.4,594.0 L759.3,595.8 L760.2,597.6 L761.2,599.3 L762.1,601.1 L763.1,602.8 L764.0,604.6 L765.0,606.3 L766.0,608.1 L767.0,609.8 L768.0,611.6 L769.0,613.3 L770.0,615.0 L771.0,616.8 L772.0,618.5 L773.1,620.2 L774.1,621.9 L775.1,623.6 L776.2,625.3 L777.2,627.0 L778.3,628.7 L779.4,630.4 L780.5,632.1 L781.5,633.8 L782.6,635.4 L783.7,637.1 L784.8,638.8 L786.0,640.4 L787.1,642.1 L788.2,643.7 L789.3,645.4 L790.5,647.0 L791.6,648.7 L792.8,650.3 L793.9,652.0 L795.1,653.6 L796.3,655.2 L797.4,656.8 L798.6,658.4 L799.8,660.1 L801.0,661.7 L802.2,663.3 L803.4,664.9 L804.6,666.5 L805.8,668.1 L807.0,669.7 L808.2,671.2 L809.5,672.8 L810.7,674.4 L811.9,676.0 L813.2,677.5 L814.4,679.1 L815.7,680.7 L816.9,682.2 L818.2,683.8 L819.4,685.3 L820.7,686.9 L822.0,688.4 L823.2,690.0 L824.5,691.5 L825.8,693.1 L827.1,694.6 L828.4,696.1 L829.7,697.6 L831.0,699.2 L832.3,700.7 L833.6,702.2 L834.9,703.7 L836.2,705.2 L837.5,706.7 L838.8,708.3 L840.1,709.8 L841.5,711.3 L842.8,712.8 L844.1,714.2 L845.5,715.7 L846.8,717.2 L848.1,718.7 L849.5,720.2 L850.8,721.7 L852.2,723.2 L853.5,724.6 L854.9,726.1 L856.2,727.6 L857.6,729.1 L858.9,730.5 L860.3,732.0 L861.7,733.5 L863.0,734.9 L864.4,736.4 L865.8,737.9 L867.1,739.3 L868.5,740.8 L869.9,742.2 L871.3,743.7 L872.6,745.1 L874.0,746.6 L875.4,748.0 L876.8,749.5 L878.2,750.9 L879.5,752.4 L880.9,753.8 L882.3,755.2 L883.7,756.7 L885.1,758.1 L886.5,759.5 L887.9,761.0 L889.3,762.4 L890.7,763.8 L892.1,765.3 L893.5,766.7 L894.9,768.1 L896.3,769.5 L897.7,770.9 L899.2,772.4 L900.6,773.8 L902.0,775.2 L903.4,776.6 L904.8,778.0 L906.2,779.4 L907.7,780.8 L909.1,782.2 L910.5,783.6 L911.9,785.0 L913.4,786.4 L914.8,787.8 L916.2,789.2 L917.7,790.6 L919.1,792.0 L920.6,793.4 L922.0,794.8 L923.4,796.2 L924.9,797.6 L926.3,799.0 L927.8,800.3 L929.2,801.7 L930.7,803.1 L932.1,804.5 L933.6,805.9 L935.0,807.2 L936.5,808.6 L937.9,810.0 L939.4,811.3 L940.9,812.7 L942.3,814.1 L943.8,815.4 L945.3,816.8 L946.7,818.1 L948.2,819.5 L949.7,820.9 L951.2,822.2 L952.6,823.6 L954.1,824.9 L955.6,826.3 L957.1,827.6 L958.5,829.0 L960.0,830.3 L961.5,831.6 L963.0,833.0 L964.5,834.3 L966.0,835.6 L967.5,837.0 L969.0,838.3 L970.5,839.6 L972.0,841.0 L973.5,842.3 L975.0,843.6 L976.5,844.9 L978.0,846.3 L979.5,847.6 L981.0,848.9 L982.5,850.2 L984.0,851.5 L985.5,852.8 L987.0,854.2 L988.5,855.5 L990.0,856.8 L991.6,858.1 L993.1,859.4 L994.6,860.7 L996.1,862.0 L997.7,863.3 L999.2,864.6 L1000.7,865.9 L1002.2,867.1 L1003.8,868.4 L1005.3,869.7 L1006.8,871.0 L1008.4,872.3 L1009.9,873.6 L1011.4,874.8 L1013.0,876.1 L1014.5,877.4 L1016.1,878.7 L1017.6,879.9 L1019.2,881.2 L1020.7,882.5 L1022.3,883.7 L1023.8,885.0 L1025.4,886.2 L1026.9,887.5 L1028.5,888.8 L1030.1,890.0 L1031.6,891.3 L1033.2,892.5 L1034.8,893.7 L1036.3,895.0 L1037.9,896.2 L1039.5,897.5 L1041.1,898.7 L1042.6,899.9 L1044.2,901.1 L1045.8,902.4 L1047.4,903.6 L1049.0,904.8 L1050.6,906.0 L1052.1,907.3 L1053.7,908.5 L1055.3,909.7 L1056.9,910.9 L1058.5,912.1 L1060.1,913.3 L1061.7,914.5 L1063.3,915.7 L1064.9,916.9 L1066.5,918.1 L1068.1,919.3 L1069.8,920.4 L1071.4,921.6 L1073.0,922.8 L1074.6,924.0 L1076.2,925.2 L1077.9,926.3 L1079.5,927.5 L1081.1,928.7 L1082.7,929.8 L1084.4,931.0 L1086.0,932.1 L1087.6,933.3 L1089.3,934.4 L1090.9,935.6 L1092.5,936.7 L1094.2,937.9 L1095.8,939.0 L1097.5,940.2 L1099.1,941.3 L1100.8,942.4 L1102.4,943.5 L1104.1,944.7 L1105.8,945.8 L1107.4,946.9 L1109.1,948.0 L1110.8,949.1 L1112.4,950.2 L1114.1,951.3 L1115.8,952.4 L1117.4,953.5 L1119.1,954.6 L1120.8,955.7 L1122.5,956.8 L1124.2,957.9 L1125.8,958.9 L1127.5,960.0 L1129.2,961.1 L1130.9,962.1 L1132.6,963.2 L1134.3,964.3 L1136.0,965.3 L1137.7,966.4 L1139.4,967.4 L1141.1,968.5 L1142.8,969.5 L1144.6,970.5 L1146.3,971.6 L1148.0,972.6 L1149.7,973.6 L1151.4,974.6 L1153.2,975.6 L1154.9,976.6 L1156.6,977.6 L1158.4,978.6 L1160.1,979.6 L1161.8,980.6 L1163.6,981.6 L1165.3,982.6 L1167.1,983.6 L1168.8,984.5 L1170.6,985.5 L1172.3,986.5 L1174.1,987.4 L1175.9,988.4 L1177.6,989.3 L1179.4,990.2 L1181.2,991.2 L1182.9,992.1 L1184.7,993.0 L1186.5,993.9 L1188.3,994.9 L1190.0,995.8 L1191.8,996.7 L1193.6,997.6 L1195.4,998.5 L1197.2,999.3 L1199.0,1000.2 L1200.8,1001.1 L1202.6,1002.0 L1204.4,1002.8 L1206.2,1003.7 L1208.0,1004.5 L1209.8,1005.4 L1211.7,1006.2 L1213.5,1007.0 L1215.3,1007.9 L1217.1,1008.7 L1219.0,1009.5 L1220.8,1010.3 L1222.6,1011.1 L1224.5,1011.9 L1226.3,1012.7 L1228.2,1013.4 L1230.0,1014.2 L1231.9,1015.0 L1233.7,1015.7 L1235.6,1016.5 L1237.4,1017.2 L1239.3,1018.0 L1241.1,1018.7 L1243.0,1019.4 L1244.9,1020.1 L1246.7,1020.8 L1248.6,1021.5 L1250.5,1022.2 L1252.4,1022.9 L1254.3,1023.6 L1256.1,1024.3 L1258.0,1024.9 L1259.9,1025.6 L1261.8,1026.2 L1263.7,1026.9 L1265.6,1027.5 L1267.5,1028.1 L1269.4,1028.7 L1271.3,1029.4 L1273.2,1030.0 L1275.1,1030.5 L1277.1,1031.1 L1279.0,1031.7 L1280.9,1032.3 L1282.8,1032.9 L1284.7,1033.4 L1286.7,1034.0 L1288.6,1034.5 L1290.5,1035.1 L1292.4,1035.6 L1294.4,1036.1 L1296.3,1036.7 L1298.2,1037.2 L1300.2,1037.7 L1302.1,1038.2 L1304.0,1038.7 L1306.0,1039.2 L1307.9,1039.7 L1309.9,1040.1 L1311.8,1040.6 L1313.8,1041.1 L1315.7,1041.5 L1317.6,1042.0 L1319.6,1042.4 L1321.5,1042.9 L1323.5,1043.3 L1325.5,1043.8 L1327.4,1044.2 L1329.4,1044.6 L1331.3,1045.0 L1333.3,1045.5 L1335.2,1045.9 L1337.2,1046.3 L1339.2,1046.7 L1341.1,1047.1 L1343.1,1047.5 L1345.0,1047.9 L1347.0,1048.2 L1349.0,1048.6 L1350.9,1049.0 L1352.9,1049.4 L1354.9,1049.7 L1356.8,1050.1 L1358.8,1050.4 L1360.8,1050.8 L1362.7,1051.2 L1364.7,1051.5 L1366.7,1051.8 L1368.7,1052.2 L1370.6,1052.5 L1372.6,1052.8 L1374.6,1053.2 L1376.6,1053.5 L1378.5,1053.8 L1380.5,1054.1 L1382.5,1054.5 L1384.5,1054.8 L1386.4,1055.1 L1388.4,1055.4 L1390.4,1055.7 L1392.4,1056.0 L1394.3,1056.3 L1396.3,1056.6 L1398.3,1056.9 L1400.3,1057.2 L1402.3,1057.5 L1404.2,1057.8 L1406.2,1058.0 L1408.2,1058.3 L1410.2,1058.6 L1412.2,1058.9 L1414.1,1059.2 L1416.1,1059.4 L1418.1,1059.7 L1420.1,1060.0 L1422.1,1060.2 L1424.1,1060.5 L1426.0,1060.8 L1428.0,1061.0 L1430.0,1061.3 L1432.0,1061.6 L1434.0,1061.8 L1436.0,1062.1 L1437.9,1062.3 L1439.9,1062.6 L1441.9,1062.8 L1443.9,1063.1 L1445.9,1063.4 L1447.9,1063.6 L1449.9,1063.8 L1451.8,1064.1 L1453.8,1064.3 L1455.8,1064.6 L1457.8,1064.8 L1459.8,1065.1 L1461.8,1065.3 L1463.8,1065.5 L1465.8,1065.8 L1467.7,1066.0 L1469.7,1066.2 L1471.7,1066.5 L1473.7,1066.7 L1475.7,1066.9 L1477.7,1067.1 L1479.7,1067.4 L1481.7,1067.6 L1483.6,1067.8 L1485.6,1068.0 L1487.6,1068.2 L1489.6,1068.5 L1491.6,1068.7 L1493.6,1068.9 L1495.6,1069.1 L1497.6,1069.3 L1499.6,1069.5 L1501.6,1069.7 L1503.5,1069.9 L1505.5,1070.1 L1507.5,1070.3 L1509.5,1070.5 L1511.5,1070.7 L1513.5,1070.9 L1515.5,1071.1 L1517.5,1071.3 L1519.5,1071.5 L1521.5,1071.7 L1523.5,1071.9 L1525.4,1072.1 L1527.4,1072.3 L1529.4,1072.5 L1531.4,1072.7 L1533.4,1072.9 L1535.4,1073.1 L1537.4,1073.2 L1539.4,1073.4 L1541.4,1073.6 L1543.4,1073.8 L1545.4,1074.0 L1547.4,1074.1 L1549.4,1074.3 L1551.4,1074.5 L1553.3,1074.7 L1555.3,1074.8 L1557.3,1075.0 L1559.3,1075.2 L1561.3,1075.4 L1563.3,1075.5 L1565.3,1075.7 L1567.3,1075.9 L1569.3,1076.0 L1571.3,1076.2 L1573.3,1076.4 L1575.3,1076.5 L1577.3,1076.7 L1579.3,1076.8 L1581.3,1077.0 L1583.3,1077.2 L1585.3,1077.3 L1587.2,1077.5 L1589.2,1077.6 L1591.2,1077.8 L1593.2,1077.9 L1595.2,1078.1 L1597.2,1078.2 L1599.2,1078.4 L1601.2,1078.5 L1603.2,1078.7 L1605.2,1078.8 L1607.2,1079.0 L1609.2,1079.1 L1611.2,1079.3 L1613.2,1079.4 L1615.2,1079.5 L1617.2,1079.7 L1619.2,1079.8 L1621.2,1080.0 L1623.2,1080.1 L1625.2,1080.2 L1627.2,1080.4 L1629.2,1080.5 L1631.2,1080.6 L1633.2,1080.8 L1635.2,1080.9 L1637.1,1081.0 L1639.1,1081.2 L1641.1,1081.3 L1643.1,1081.4 L1645.1,1081.6 L1647.1,1081.7 L1649.1,1081.8 L1651.1,1082.0 L1653.1,1082.1 L1655.1,1082.2 L1657.1,1082.3 L1659.1,1082.5 L1661.1,1082.6 L1663.1,1082.7 L1665.1,1082.8 L1667.1,1082.9 L1669.1,1083.1 L1671.1,1083.2 L1673.1,1083.3 L1675.1,1083.4 L1677.1,1083.5 L1679.1,1083.7 L1681.1,1083.8 L1683.1,1083.9 L1685.1,1084.0 L1687.1,1084.1 L1689.1,1084.2 L1691.1,1084.3 L1693.1,1084.5 L1695.1,1084.6 L1697.1,1084.7 L1699.1,1084.8 L1701.1,1084.9 L1703.1,1085.0 L1705.1,1085.1 L1707.1,1085.2 L1709.1,1085.3 L1711.1,1085.4 L1713.1,1085.6 L1715.1,1085.7 L1717.0,1085.8 L1719.0,1085.9 L1721.0,1086.0" stroke="#9A0000" stroke-width="6.8" stroke-dasharray="28.10 12.80 7.00 10.50 29.80 12.80 6.90 10.60 30.00 12.90 7.10 10.70 30.70 13.10 7.00 10.40 29.60 12.60 7.00 10.60 30.40 13.00 7.00 10.40 29.80 12.70 7.00 10.40 29.90 12.80 6.90 10.50 29.80 12.70 7.00 10.30 29.50 12.60 7.00 10.70 30.40 13.00 7.00 10.50 30.10 12.80 6.90 10.50 29.90 12.80 7.00 10.50 30.00 12.80 6.80 10.10 28.90 12.30 6.80 10.20 29.20 12.50 6.80 10.40 29.60 12.60 6.90 10.50 29.90 12.70 7.00 10.50 29.80 12.70 6.90 10.40 29.80 12.60 7.00 10.60 30.10 12.90 7.00 10.50 30.00 12.80 6.90 10.20 29.40 12.50 6.90 10.30 29.60 12.60 6.90 10.40 29.90 12.70 6.90 10.30 29.40 12.60 7.00 10.70 30.70 13.10 7.00 10.40 29.60 12.70 7.10 10.90 31.20 13.40 7.00 10.40 29.50 12.70 6.90 10.40 29.80 12.70 7.00 10.60 30.20 12.90 7.20 10.80 30.90 13.10 7.20 10.50 30.30 12.90 7.10 10.60 30.40 13.00 7.10 10.50 30.20 12.90 7.00 10.50 29.80 12.80 7.00 10.50 30.10 12.90 7.00 10.60 30.10 12.80 7.00 10.50 29.90 12.80 6.90 10.50 29.80 12.70 7.00 10.60 30.30 12.90 7.00 10.50 30.00 54.62"/></g>
<g fill="none"><path d="M1186.7,106.1H1320.7" stroke="#9A0000" stroke-width="6.8" stroke-dasharray="30 10.5 7 12.8"/><path d="M1186.7,184.4H1320.7" stroke="#FF8000" stroke-width="6.8" stroke-dasharray="19.5 15"/><path d="M1186.7,255.4H1320.7" stroke="#007F00" stroke-width="6.8" stroke-dasharray="35.4 19 11 19 11 19"/><path d="M1186.7,325H1320.7" stroke="#A6ABA6" stroke-width="7.0"/><path d="M1189.7,403.9H1315" stroke="#880088" stroke-width="9" stroke-linecap="round" stroke-dasharray="0 20.4"/></g>
<g font-family="Liberation Sans, Arial, sans-serif" font-size="58" fill="#000" stroke="#fff" stroke-width="1.1"><text transform="translate(1333,124.9) scale(1,1.035)" x="0" y="0">CAW</text><text transform="translate(1333,204.3) scale(1,1.035)" x="0" y="0">Co<tspan font-size="31.5" dy="-29">2+</tspan><tspan dy="29"> + Cyclen</tspan></text><text transform="translate(1333,273.7) scale(1,1.035)" x="0" y="0">C<tspan dx="2">1</tspan></text><text transform="translate(1333,344.2) scale(1,1.035)" x="0" y="0">Ctrl</text><text transform="translate(1333,422.5) scale(1,1.035)" x="0" y="0">Co<tspan font-size="31.5" dy="-29">2+</tspan></text></g>
<g fill="#fff"><rect x="136.3" y="781.3" width="13.0" height="7.5"/><rect x="153.7" y="781.3" width="12.5" height="7.5"/><rect x="136.3" y="617.7" width="13.0" height="7.5"/><rect x="153.7" y="617.7" width="12.5" height="7.5"/><rect x="1379.9" y="267.8" width="12.1" height="7.1"/><rect x="1396.0" y="267.8" width="11.6" height="7.1"/></g></g></svg>
</div></body></html>
